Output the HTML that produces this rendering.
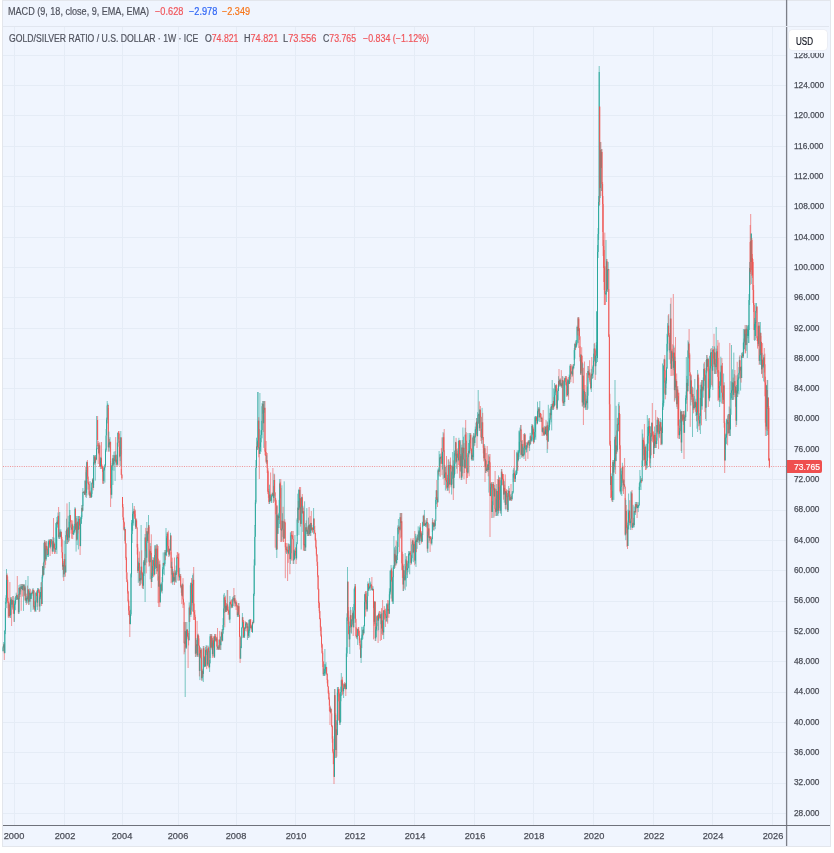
<!DOCTYPE html>
<html><head><meta charset="utf-8"><title>GOLD/SILVER RATIO / U.S. DOLLAR</title>
<style>
html,body{margin:0;padding:0;background:#fff;width:834px;height:853px;overflow:hidden}
body{position:relative;font-family:"Liberation Sans",sans-serif;color:#131722}
#frame{position:absolute;left:2px;top:0;width:827px;height:845px;border:1px solid #e3e6ec;background:#f0f5fe}
svg{position:absolute;left:0;top:0}
.t{position:absolute;font-size:10px;line-height:1;white-space:pre;transform-origin:0 0;color:#50535e;-webkit-text-stroke:0.2px currentColor}
.r{color:#f0555a}.b{color:#2f66f5}.o{color:#f7761a}
.pl{position:absolute;left:794px;font-size:8.8px;line-height:1;white-space:pre;transform:scaleX(.945);transform-origin:0 0;color:#4a4d57;-webkit-text-stroke:0.25px #4a4d57}
.yl{position:absolute;top:830.5px;width:40px;text-align:center;font-size:9.8px;line-height:1;transform:scaleX(.943);transform-origin:50% 0;color:#4a4d57;-webkit-text-stroke:0.25px #4a4d57}
#usd{position:absolute;left:789px;top:30px;width:38px;height:20px;background:#fff;box-shadow:0 0 0 0.6px #e8eaef;border-radius:3.5px}
#usdmask{position:absolute;left:788px;top:29px;width:41px;height:23.6px;background:#f0f5fe}
#lastbox{position:absolute;left:787px;top:459.6px;width:35px;height:13.1px;background:#ef4f4f;border-radius:0 2px 2px 0}
</style></head><body>
<div id="frame"></div>
<svg width="834" height="853" viewBox="0 0 834 853">
<path stroke="#e5ecf6" stroke-width="1" fill="none" d="M3 813.5H786M3 783.5H786M3 752.5H786M3 722.5H786M3 692.5H786M3 661.5H786M3 631.5H786M3 601.5H786M3 570.5H786M3 540.5H786M3 510.5H786M3 479.5H786M3 449.5H786M3 419.5H786M3 388.5H786M3 358.5H786M3 328.5H786M3 297.5H786M3 267.5H786M3 237.5H786M3 206.5H786M3 176.5H786M3 146.5H786M3 115.5H786M3 85.5H786M3 55.5H786M14.5 27V825M64.5 27V825M122.5 27V825M178.5 27V825M236.5 27V825M295.5 27V825M354.5 27V825M414.5 27V825M474.5 27V825M533.5 27V825M593.5 27V825M653.5 27V825M712.5 27V825M772.5 27V825"/>
<g fill="none"><path stroke="#26a69a" stroke-width="0.6" d="M3.1 646.1V651.6M3.7 642.0V648.0"/><path stroke="#26a69a" stroke-width="0.95" d="M3.1 647.4V651.0M3.7 644.4V647.4"/><path stroke="#ef5350" stroke-width="0.6" d="M4.3 643.2V660.0"/><path stroke="#ef5350" stroke-width="0.95" d="M4.3 644.4V653.2"/><path stroke="#26a69a" stroke-width="0.6" d="M4.8 630.2V653.0M5.4 602.0V634.1M6.0 595.2V604.0M6.5 569.0V602.5"/><path stroke="#26a69a" stroke-width="0.95" d="M4.8 630.7V653.2M5.4 608.1V630.7M6.0 597.9V608.1M6.5 575.1V597.9"/><path stroke="#ef5350" stroke-width="0.6" d="M7.1 573.5V580.1M7.7 576.4V603.0M8.2 597.8V617.6M8.8 601.9V618.0"/><path stroke="#ef5350" stroke-width="0.95" d="M7.1 575.1V579.8M7.7 579.8V601.4M8.2 601.4V608.4M8.8 608.4V616.1"/><path stroke="#26a69a" stroke-width="0.6" d="M9.4 602.8V616.6"/><path stroke="#26a69a" stroke-width="0.95" d="M9.4 604.6V616.1"/><path stroke="#ef5350" stroke-width="0.6" d="M9.9 582.0V617.8"/><path stroke="#ef5350" stroke-width="0.95" d="M9.9 604.6V615.3"/><path stroke="#26a69a" stroke-width="0.6" d="M10.5 597.2V618.0M11.1 598.4V614.8"/><path stroke="#26a69a" stroke-width="0.95" d="M10.5 600.0V615.3M11.1 599.4V600.4"/><path stroke="#ef5350" stroke-width="0.6" d="M11.6 597.0V626.0"/><path stroke="#ef5350" stroke-width="0.95" d="M11.6 599.7V604.7"/><path stroke="#26a69a" stroke-width="0.6" d="M12.2 599.8V607.4M12.8 596.0V609.7"/><path stroke="#26a69a" stroke-width="0.95" d="M12.2 600.9V604.7M12.8 600.2V601.2"/><path stroke="#ef5350" stroke-width="0.6" d="M13.3 596.0V613.8M13.9 606.7V621.9"/><path stroke="#ef5350" stroke-width="0.95" d="M13.3 600.6V608.7M13.9 608.7V613.8"/><path stroke="#26a69a" stroke-width="0.6" d="M14.5 600.7V621.9M15.0 597.5V605.0M15.6 596.0V610.2M16.2 592.7V600.0M16.7 594.5V597.6"/><path stroke="#26a69a" stroke-width="0.95" d="M14.5 604.2V613.8M15.0 603.4V604.4M15.6 599.8V603.5M16.2 596.8V599.8M16.7 595.1V596.8"/><path stroke="#ef5350" stroke-width="0.6" d="M17.3 576.0V600.0"/><path stroke="#ef5350" stroke-width="0.95" d="M17.3 595.1V598.7"/><path stroke="#26a69a" stroke-width="0.6" d="M17.9 596.3V600.0"/><path stroke="#26a69a" stroke-width="0.95" d="M17.9 597.9V598.9"/><path stroke="#ef5350" stroke-width="0.6" d="M18.4 593.9V614.0"/><path stroke="#ef5350" stroke-width="0.95" d="M18.4 598.2V612.3"/><path stroke="#26a69a" stroke-width="0.6" d="M19.0 585.1V614.0"/><path stroke="#26a69a" stroke-width="0.95" d="M19.0 587.9V612.3"/><path stroke="#ef5350" stroke-width="0.6" d="M19.5 587.1V599.1"/><path stroke="#ef5350" stroke-width="0.95" d="M19.5 587.9V594.5"/><path stroke="#26a69a" stroke-width="0.6" d="M20.1 584.0V597.0M20.7 585.7V591.6"/><path stroke="#26a69a" stroke-width="0.95" d="M20.1 588.7V594.5M20.7 587.2V588.7"/><path stroke="#ef5350" stroke-width="0.6" d="M21.2 584.0V610.8"/><path stroke="#ef5350" stroke-width="0.95" d="M21.2 587.2V589.0"/><path stroke="#26a69a" stroke-width="0.6" d="M21.8 584.0V589.1"/><path stroke="#26a69a" stroke-width="0.95" d="M21.8 586.0V589.0"/><path stroke="#ef5350" stroke-width="0.6" d="M22.4 584.0V596.5"/><path stroke="#ef5350" stroke-width="0.95" d="M22.4 586.0V589.9"/><path stroke="#26a69a" stroke-width="0.6" d="M22.9 584.0V590.5M23.5 584.3V610.9"/><path stroke="#26a69a" stroke-width="0.95" d="M22.9 585.8V589.9M23.5 585.2V586.2"/><path stroke="#ef5350" stroke-width="0.6" d="M24.1 584.0V596.2"/><path stroke="#ef5350" stroke-width="0.95" d="M24.1 585.6V590.5"/><path stroke="#26a69a" stroke-width="0.6" d="M24.6 584.6V595.6"/><path stroke="#26a69a" stroke-width="0.95" d="M24.6 587.5V590.5"/><path stroke="#ef5350" stroke-width="0.6" d="M25.2 585.9V600.9"/><path stroke="#ef5350" stroke-width="0.95" d="M25.2 587.5V600.3"/><path stroke="#26a69a" stroke-width="0.6" d="M25.8 580.0V603.0"/><path stroke="#26a69a" stroke-width="0.95" d="M25.8 598.0V600.3"/><path stroke="#ef5350" stroke-width="0.6" d="M26.3 593.6V605.0"/><path stroke="#ef5350" stroke-width="0.95" d="M26.3 598.0V601.4"/><path stroke="#26a69a" stroke-width="0.6" d="M26.9 596.0V603.5"/><path stroke="#26a69a" stroke-width="0.95" d="M26.9 597.6V601.4"/><path stroke="#ef5350" stroke-width="0.6" d="M27.5 585.6V599.7"/><path stroke="#ef5350" stroke-width="0.95" d="M27.5 597.6V598.8"/><path stroke="#26a69a" stroke-width="0.6" d="M28.0 576.0V603.3"/><path stroke="#26a69a" stroke-width="0.95" d="M28.0 589.5V598.8"/><path stroke="#ef5350" stroke-width="0.6" d="M28.6 589.2V605.0"/><path stroke="#ef5350" stroke-width="0.95" d="M28.6 589.5V601.8"/><path stroke="#26a69a" stroke-width="0.6" d="M29.2 590.9V604.7M29.7 588.4V600.8"/><path stroke="#26a69a" stroke-width="0.95" d="M29.2 595.8V601.8M29.7 592.7V595.8"/><path stroke="#ef5350" stroke-width="0.6" d="M30.3 589.1V601.8"/><path stroke="#ef5350" stroke-width="0.95" d="M30.3 592.7V599.0"/><path stroke="#26a69a" stroke-width="0.6" d="M30.9 593.3V611.9M31.4 593.2V598.8M32.0 590.6V595.6"/><path stroke="#26a69a" stroke-width="0.95" d="M30.9 594.0V599.0M31.4 593.1V594.1M32.0 592.3V593.3"/><path stroke="#ef5350" stroke-width="0.6" d="M32.6 588.8V593.9"/><path stroke="#ef5350" stroke-width="0.95" d="M32.6 592.3V593.3"/><path stroke="#26a69a" stroke-width="0.6" d="M33.1 588.0V610.0"/><path stroke="#26a69a" stroke-width="0.95" d="M33.1 590.1V593.1"/><path stroke="#ef5350" stroke-width="0.6" d="M33.7 589.7V608.8"/><path stroke="#ef5350" stroke-width="0.95" d="M33.7 590.1V606.5"/><path stroke="#26a69a" stroke-width="0.6" d="M34.2 590.8V608.5"/><path stroke="#26a69a" stroke-width="0.95" d="M34.2 605.9V606.9"/><path stroke="#ef5350" stroke-width="0.6" d="M34.8 601.0V612.0"/><path stroke="#ef5350" stroke-width="0.95" d="M34.8 606.4V610.4"/><path stroke="#26a69a" stroke-width="0.6" d="M35.4 600.4V611.2M35.9 592.2V612.0"/><path stroke="#26a69a" stroke-width="0.95" d="M35.4 601.9V610.4M35.9 592.8V601.9"/><path stroke="#ef5350" stroke-width="0.6" d="M36.5 590.6V596.0M37.1 594.0V606.8"/><path stroke="#ef5350" stroke-width="0.95" d="M36.5 592.8V595.8M37.1 595.8V602.6"/><path stroke="#26a69a" stroke-width="0.6" d="M37.6 588.0V610.0M38.2 588.0V593.1"/><path stroke="#26a69a" stroke-width="0.95" d="M37.6 590.1V602.6M38.2 589.4V590.4"/><path stroke="#ef5350" stroke-width="0.6" d="M38.8 588.6V592.5M39.3 589.5V612.0"/><path stroke="#ef5350" stroke-width="0.95" d="M38.8 589.7V591.4M39.3 591.4V606.4"/><path stroke="#26a69a" stroke-width="0.6" d="M39.9 595.6V611.3M40.5 591.9V599.2M41.0 582.3V595.7"/><path stroke="#26a69a" stroke-width="0.95" d="M39.9 597.5V606.4M40.5 592.1V597.5M41.0 587.1V592.1"/><path stroke="#ef5350" stroke-width="0.6" d="M41.6 582.0V606.0"/><path stroke="#ef5350" stroke-width="0.95" d="M41.6 587.1V604.0"/><path stroke="#26a69a" stroke-width="0.6" d="M42.2 574.9V582.0M42.7 566.1V578.5"/><path stroke="#26a69a" stroke-width="0.95" d="M42.2 576.8V604.0M42.7 566.1V576.8"/><path stroke="#ef5350" stroke-width="0.6" d="M43.3 563.0V575.7"/><path stroke="#ef5350" stroke-width="0.95" d="M43.3 566.1V574.8"/><path stroke="#26a69a" stroke-width="0.6" d="M43.9 543.0V570.0M44.4 540.0V562.5"/><path stroke="#26a69a" stroke-width="0.95" d="M43.9 561.7V574.8M44.4 542.1V561.7"/><path stroke="#ef5350" stroke-width="0.6" d="M45.0 540.4V568.2M45.6 543.0V564.9"/><path stroke="#ef5350" stroke-width="0.95" d="M45.0 542.1V548.4M45.6 548.4V559.3"/><path stroke="#26a69a" stroke-width="0.6" d="M46.1 541.0V560.8"/><path stroke="#26a69a" stroke-width="0.95" d="M46.1 545.9V559.3"/><path stroke="#ef5350" stroke-width="0.6" d="M46.7 541.2V550.2M47.3 546.5V554.9"/><path stroke="#ef5350" stroke-width="0.95" d="M46.7 545.9V548.6M47.3 548.6V554.8"/><path stroke="#26a69a" stroke-width="0.6" d="M47.8 554.3V557.0M48.4 540.6V557.0M49.0 539.0V544.4"/><path stroke="#26a69a" stroke-width="0.95" d="M47.8 554.3V555.3M48.4 542.3V554.7M49.0 540.6V542.3"/><path stroke="#ef5350" stroke-width="0.6" d="M49.5 540.3V547.8M50.1 539.0V556.0"/><path stroke="#ef5350" stroke-width="0.95" d="M49.5 540.6V544.6M50.1 544.6V546.6"/><path stroke="#26a69a" stroke-width="0.6" d="M50.6 539.0V548.5M51.2 539.0V543.2"/><path stroke="#26a69a" stroke-width="0.95" d="M50.6 540.9V546.6M51.2 539.9V540.9"/><path stroke="#ef5350" stroke-width="0.6" d="M51.8 539.0V546.7M52.3 542.4V554.0"/><path stroke="#ef5350" stroke-width="0.95" d="M51.8 539.9V544.6M52.3 544.6V551.5"/><path stroke="#26a69a" stroke-width="0.6" d="M52.9 537.0V551.5"/><path stroke="#26a69a" stroke-width="0.95" d="M52.9 541.1V551.5"/><path stroke="#ef5350" stroke-width="0.6" d="M53.5 518.0V549.4"/><path stroke="#ef5350" stroke-width="0.95" d="M53.5 541.1V547.6"/><path stroke="#26a69a" stroke-width="0.6" d="M54.0 537.7V551.8"/><path stroke="#26a69a" stroke-width="0.95" d="M54.0 543.9V547.6"/><path stroke="#ef5350" stroke-width="0.6" d="M54.6 542.5V554.0M55.2 548.5V553.7"/><path stroke="#ef5350" stroke-width="0.95" d="M54.6 543.9V548.7M55.2 548.5V549.5"/><path stroke="#26a69a" stroke-width="0.6" d="M55.7 523.1V552.0M56.3 522.5V550.0M56.9 517.0V554.0"/><path stroke="#26a69a" stroke-width="0.95" d="M55.7 548.3V549.3M56.3 527.5V548.4M56.9 521.9V527.5"/><path stroke="#ef5350" stroke-width="0.6" d="M57.4 520.3V524.8"/><path stroke="#ef5350" stroke-width="0.95" d="M57.4 521.9V524.0"/><path stroke="#26a69a" stroke-width="0.6" d="M58.0 512.5V527.7"/><path stroke="#26a69a" stroke-width="0.95" d="M58.0 515.9V524.0"/><path stroke="#ef5350" stroke-width="0.6" d="M58.6 507.0V538.6"/><path stroke="#ef5350" stroke-width="0.95" d="M58.6 515.9V536.9"/><path stroke="#26a69a" stroke-width="0.6" d="M59.1 529.3V539.0M59.7 512.0V539.0"/><path stroke="#26a69a" stroke-width="0.95" d="M59.1 534.7V536.9M59.7 532.4V534.7"/><path stroke="#ef5350" stroke-width="0.6" d="M60.3 530.7V537.4"/><path stroke="#ef5350" stroke-width="0.95" d="M60.3 532.4V536.6"/><path stroke="#26a69a" stroke-width="0.6" d="M60.8 529.2V537.2"/><path stroke="#26a69a" stroke-width="0.95" d="M60.8 531.8V536.6"/><path stroke="#ef5350" stroke-width="0.6" d="M61.4 535.0V546.7M62.0 536.9V558.2M62.5 552.1V569.9"/><path stroke="#ef5350" stroke-width="0.95" d="M61.4 531.8V539.3M62.0 539.3V552.4M62.5 552.4V566.5"/><path stroke="#26a69a" stroke-width="0.6" d="M63.1 563.2V577.3"/><path stroke="#26a69a" stroke-width="0.95" d="M63.1 565.0V566.5"/><path stroke="#ef5350" stroke-width="0.6" d="M63.7 561.1V581.0"/><path stroke="#ef5350" stroke-width="0.95" d="M63.7 565.0V574.3"/><path stroke="#26a69a" stroke-width="0.6" d="M64.2 540.5V577.0"/><path stroke="#26a69a" stroke-width="0.95" d="M64.2 559.1V574.3"/><path stroke="#ef5350" stroke-width="0.6" d="M64.8 553.9V566.8M65.4 565.1V576.7"/><path stroke="#ef5350" stroke-width="0.95" d="M64.8 559.1V566.2M65.4 566.2V572.5"/><path stroke="#26a69a" stroke-width="0.6" d="M65.9 530.8V544.0M66.5 518.7V536.7"/><path stroke="#26a69a" stroke-width="0.95" d="M65.9 535.2V572.5M66.5 529.5V535.2"/><path stroke="#ef5350" stroke-width="0.6" d="M67.0 503.4V544.0"/><path stroke="#ef5350" stroke-width="0.95" d="M67.0 529.5V539.8"/><path stroke="#26a69a" stroke-width="0.6" d="M67.6 527.6V544.0M68.2 515.8V542.0"/><path stroke="#26a69a" stroke-width="0.95" d="M67.6 534.5V539.8M68.2 527.8V534.5"/><path stroke="#ef5350" stroke-width="0.6" d="M68.7 527.0V542.5"/><path stroke="#ef5350" stroke-width="0.95" d="M68.7 527.8V537.6"/><path stroke="#26a69a" stroke-width="0.6" d="M69.3 502.0V540.8M69.9 510.0V530.1"/><path stroke="#26a69a" stroke-width="0.95" d="M69.3 521.7V537.6M69.9 515.1V521.7"/><path stroke="#ef5350" stroke-width="0.6" d="M70.4 519.0V522.3M71.0 520.0V533.7M71.6 527.2V538.7"/><path stroke="#ef5350" stroke-width="0.95" d="M70.4 515.1V520.2M71.0 520.2V527.6M71.6 527.6V529.5"/><path stroke="#26a69a" stroke-width="0.6" d="M72.1 523.5V530.2"/><path stroke="#26a69a" stroke-width="0.95" d="M72.1 524.6V529.5"/><path stroke="#ef5350" stroke-width="0.6" d="M72.7 520.4V539.0"/><path stroke="#ef5350" stroke-width="0.95" d="M72.7 524.6V533.9"/><path stroke="#26a69a" stroke-width="0.6" d="M73.3 533.3V534.9M73.8 526.2V535.0M74.4 523.9V532.5M75.0 507.0V532.5"/><path stroke="#26a69a" stroke-width="0.95" d="M73.3 533.2V534.2M73.8 530.7V533.6M74.4 529.9V530.9M75.0 508.6V530.1"/><path stroke="#ef5350" stroke-width="0.6" d="M75.5 516.0V530.1"/><path stroke="#ef5350" stroke-width="0.95" d="M75.5 508.6V528.7"/><path stroke="#26a69a" stroke-width="0.6" d="M76.1 516.0V551.6"/><path stroke="#26a69a" stroke-width="0.95" d="M76.1 523.4V528.7"/><path stroke="#ef5350" stroke-width="0.6" d="M76.7 518.2V540.7"/><path stroke="#ef5350" stroke-width="0.95" d="M76.7 523.4V539.6"/><path stroke="#26a69a" stroke-width="0.6" d="M77.2 516.0V545.1"/><path stroke="#26a69a" stroke-width="0.95" d="M77.2 521.9V539.6"/><path stroke="#ef5350" stroke-width="0.6" d="M77.8 521.6V533.5"/><path stroke="#ef5350" stroke-width="0.95" d="M77.8 521.9V529.8"/><path stroke="#26a69a" stroke-width="0.6" d="M78.4 516.0V549.4M78.9 516.0V526.0"/><path stroke="#26a69a" stroke-width="0.95" d="M78.4 525.8V529.8M78.9 519.0V525.8"/><path stroke="#ef5350" stroke-width="0.6" d="M79.5 516.0V529.2M80.1 518.3V555.0"/><path stroke="#ef5350" stroke-width="0.95" d="M79.5 519.0V525.1M80.1 525.1V546.1"/><path stroke="#26a69a" stroke-width="0.6" d="M80.6 517.2V540.0M81.2 515.5V524.0M81.8 505.0V519.0"/><path stroke="#26a69a" stroke-width="0.95" d="M80.6 523.7V546.1M81.2 517.1V523.7M81.8 507.9V517.1"/><path stroke="#ef5350" stroke-width="0.6" d="M82.3 505.0V511.7"/><path stroke="#ef5350" stroke-width="0.95" d="M82.3 507.9V510.8"/><path stroke="#26a69a" stroke-width="0.6" d="M82.9 488.0V506.0"/><path stroke="#26a69a" stroke-width="0.95" d="M82.9 492.1V510.8"/><path stroke="#ef5350" stroke-width="0.6" d="M83.4 491.6V492.9"/><path stroke="#ef5350" stroke-width="0.95" d="M83.4 491.8V492.8"/><path stroke="#26a69a" stroke-width="0.6" d="M84.0 491.4V493.4"/><path stroke="#26a69a" stroke-width="0.95" d="M84.0 491.8V492.8"/><path stroke="#ef5350" stroke-width="0.6" d="M84.6 490.4V494.8"/><path stroke="#ef5350" stroke-width="0.95" d="M84.6 492.0V494.7"/><path stroke="#26a69a" stroke-width="0.6" d="M85.1 480.1V495.1"/><path stroke="#26a69a" stroke-width="0.95" d="M85.1 480.9V494.7"/><path stroke="#ef5350" stroke-width="0.6" d="M85.7 466.8V497.0"/><path stroke="#ef5350" stroke-width="0.95" d="M85.7 480.9V492.9"/><path stroke="#26a69a" stroke-width="0.6" d="M86.3 470.0V498.0M86.8 461.5V495.4"/><path stroke="#26a69a" stroke-width="0.95" d="M86.3 472.1V492.9M86.8 462.2V472.1"/><path stroke="#ef5350" stroke-width="0.6" d="M87.4 460.0V479.0M88.0 466.3V489.6M88.5 482.3V484.6M89.1 481.5V495.4M89.7 491.1V498.0"/><path stroke="#ef5350" stroke-width="0.95" d="M87.4 462.2V476.6M88.0 476.6V483.4M88.5 483.3V484.3M89.1 484.1V494.5M89.7 494.5V495.6"/><path stroke="#26a69a" stroke-width="0.6" d="M90.2 481.2V497.9"/><path stroke="#26a69a" stroke-width="0.95" d="M90.2 492.6V495.6"/><path stroke="#ef5350" stroke-width="0.6" d="M90.8 490.5V498.0"/><path stroke="#ef5350" stroke-width="0.95" d="M90.8 492.6V496.9"/><path stroke="#26a69a" stroke-width="0.6" d="M91.4 487.7V498.0M91.9 482.4V497.0M92.5 478.6V484.2"/><path stroke="#26a69a" stroke-width="0.95" d="M91.4 493.9V496.9M91.9 482.9V493.9M92.5 479.7V482.9"/><path stroke="#ef5350" stroke-width="0.6" d="M93.1 478.0V490.4"/><path stroke="#ef5350" stroke-width="0.95" d="M93.1 479.7V487.9"/><path stroke="#26a69a" stroke-width="0.6" d="M93.6 455.0V485.0M94.2 455.0V463.8"/><path stroke="#26a69a" stroke-width="0.95" d="M93.6 462.2V487.9M94.2 456.7V462.2"/><path stroke="#ef5350" stroke-width="0.6" d="M94.8 456.0V465.0"/><path stroke="#ef5350" stroke-width="0.95" d="M94.8 456.7V463.2"/><path stroke="#26a69a" stroke-width="0.6" d="M95.3 455.0V480.6"/><path stroke="#26a69a" stroke-width="0.95" d="M95.3 457.7V463.2"/><path stroke="#ef5350" stroke-width="0.6" d="M95.9 455.0V461.3"/><path stroke="#ef5350" stroke-width="0.95" d="M95.9 457.7V459.7"/><path stroke="#26a69a" stroke-width="0.6" d="M96.5 416.0V456.0M97.0 445.1V449.2"/><path stroke="#26a69a" stroke-width="0.95" d="M96.5 448.8V459.7M97.0 447.8V448.8"/><path stroke="#ef5350" stroke-width="0.6" d="M97.6 416.0V446.0M98.2 441.0V464.0M98.7 444.9V453.9"/><path stroke="#ef5350" stroke-width="0.95" d="M97.6 420.0V440.0M98.2 443.2V446.9M98.7 446.9V452.9"/><path stroke="#26a69a" stroke-width="0.6" d="M99.3 443.3V454.9"/><path stroke="#26a69a" stroke-width="0.95" d="M99.3 445.4V452.9"/><path stroke="#ef5350" stroke-width="0.6" d="M99.8 442.2V467.0"/><path stroke="#ef5350" stroke-width="0.95" d="M99.8 445.4V466.5"/><path stroke="#26a69a" stroke-width="0.6" d="M100.4 457.5V469.0M101.0 456.9V462.7"/><path stroke="#26a69a" stroke-width="0.95" d="M100.4 460.5V466.5M101.0 458.2V460.5"/><path stroke="#ef5350" stroke-width="0.6" d="M101.5 442.0V469.0M102.1 464.4V468.5M102.7 465.8V483.7M103.2 468.1V484.0"/><path stroke="#ef5350" stroke-width="0.95" d="M101.5 458.2V466.7M102.1 466.3V467.3M102.7 467.0V471.9M103.2 471.9V480.8"/><path stroke="#26a69a" stroke-width="0.6" d="M103.8 467.2V483.7M104.4 467.2V470.7M104.9 464.0V482.6M105.5 448.6V466.6M106.1 429.0V451.9M106.6 417.6V429.0M107.2 401.0V423.4M107.8 403.4V405.6"/><path stroke="#26a69a" stroke-width="0.95" d="M103.8 469.8V480.8M104.4 467.8V469.8M104.9 465.2V467.8M105.5 450.4V465.2M106.1 435.6V450.4M106.6 419.7V435.6M107.2 405.5V419.7M107.8 404.8V405.8"/><path stroke="#ef5350" stroke-width="0.6" d="M108.3 408.0V452.0"/><path stroke="#ef5350" stroke-width="0.95" d="M108.3 405.1V447.3"/><path stroke="#26a69a" stroke-width="0.6" d="M108.9 431.7V450.9"/><path stroke="#26a69a" stroke-width="0.95" d="M108.9 442.6V447.3"/><path stroke="#ef5350" stroke-width="0.6" d="M109.5 438.9V447.6"/><path stroke="#ef5350" stroke-width="0.95" d="M109.5 442.6V444.5"/><path stroke="#26a69a" stroke-width="0.6" d="M110.0 437.1V452.0"/><path stroke="#26a69a" stroke-width="0.95" d="M110.0 441.8V444.5"/><path stroke="#ef5350" stroke-width="0.6" d="M110.6 461.0V507.0M111.2 484.7V494.7"/><path stroke="#ef5350" stroke-width="0.95" d="M110.6 441.8V488.3M111.2 488.3V494.7"/><path stroke="#26a69a" stroke-width="0.6" d="M111.7 465.0V498.5M112.3 458.6V470.3M112.9 454.9V485.0"/><path stroke="#26a69a" stroke-width="0.95" d="M111.7 465.8V494.7M112.3 463.0V465.8M112.9 458.2V463.0"/><path stroke="#ef5350" stroke-width="0.6" d="M113.4 455.1V465.7"/><path stroke="#ef5350" stroke-width="0.95" d="M113.4 458.2V464.5"/><path stroke="#26a69a" stroke-width="0.6" d="M114.0 451.7V470.8M114.6 455.3V460.8M115.1 451.0V481.0"/><path stroke="#26a69a" stroke-width="0.95" d="M114.0 460.7V464.5M114.6 459.4V460.7M115.1 455.2V459.4"/><path stroke="#ef5350" stroke-width="0.6" d="M115.7 437.1V462.8"/><path stroke="#ef5350" stroke-width="0.95" d="M115.7 455.2V461.6"/><path stroke="#26a69a" stroke-width="0.6" d="M116.2 454.5V465.0"/><path stroke="#26a69a" stroke-width="0.95" d="M116.2 459.7V461.6"/><path stroke="#ef5350" stroke-width="0.6" d="M116.8 455.1V467.0"/><path stroke="#ef5350" stroke-width="0.95" d="M116.8 459.7V464.5"/><path stroke="#26a69a" stroke-width="0.6" d="M117.4 442.4V465.5M117.9 432.4V443.1"/><path stroke="#26a69a" stroke-width="0.95" d="M117.4 442.7V464.5M117.9 432.9V442.7"/><path stroke="#ef5350" stroke-width="0.6" d="M118.5 431.0V439.3M119.1 431.0V465.6M119.6 441.0V457.4"/><path stroke="#ef5350" stroke-width="0.95" d="M118.5 432.7V433.7M119.1 433.5V446.7M119.6 446.7V456.3"/><path stroke="#26a69a" stroke-width="0.6" d="M120.2 437.3V461.1M120.8 431.0V466.3"/><path stroke="#26a69a" stroke-width="0.95" d="M120.2 454.5V456.3M120.8 437.4V454.5"/><path stroke="#ef5350" stroke-width="0.6" d="M121.3 469.0V475.2M121.9 474.2V480.0M122.5 497.0V507.5M123.0 504.0V520.0M123.6 518.0V529.8M124.2 521.5V531.1"/><path stroke="#ef5350" stroke-width="0.95" d="M121.3 437.4V474.8M121.9 474.8V478.3M122.5 497.0V507.1M123.0 507.1V517.2M123.6 517.2V522.4M124.2 522.4V529.4"/><path stroke="#26a69a" stroke-width="0.6" d="M124.7 526.9V541.0"/><path stroke="#26a69a" stroke-width="0.95" d="M124.7 528.7V529.7"/><path stroke="#ef5350" stroke-width="0.6" d="M125.3 529.0V543.7M125.9 543.1V560.0M126.4 556.9V579.0M127.0 579.0V582.2M127.6 580.3V593.6M128.1 590.9V602.5M128.7 599.6V615.0M129.3 606.0V616.5M129.8 614.0V637.0"/><path stroke="#ef5350" stroke-width="0.95" d="M125.3 529.1V543.5M125.9 543.5V558.0M126.4 558.0V572.4M127.0 572.4V582.0M127.6 582.0V591.5M128.1 591.5V601.1M128.7 601.1V610.7M129.3 610.7V614.9M129.8 614.9V624.1"/><path stroke="#26a69a" stroke-width="0.6" d="M130.4 609.8V624.2M131.0 572.9V616.0M131.5 520.0V577.4M132.1 522.7V543.0M132.6 503.0V530.9M133.2 511.2V523.3M133.8 508.7V525.6"/><path stroke="#26a69a" stroke-width="0.95" d="M130.4 614.3V624.1M131.0 574.2V614.3M131.5 534.0V574.2M132.1 522.9V534.0M132.6 513.8V522.9M133.2 512.0V513.8M133.8 511.1V512.1"/><path stroke="#ef5350" stroke-width="0.6" d="M134.3 506.0V516.6M134.9 509.2V518.9M135.5 510.3V528.9"/><path stroke="#ef5350" stroke-width="0.95" d="M134.3 511.2V514.2M134.9 514.2V518.6M135.5 518.6V526.6"/><path stroke="#26a69a" stroke-width="0.6" d="M136.0 518.8V529.0"/><path stroke="#26a69a" stroke-width="0.95" d="M136.0 520.5V526.6"/><path stroke="#ef5350" stroke-width="0.6" d="M136.6 518.5V528.4M137.2 544.0V554.6M137.7 544.0V573.0"/><path stroke="#ef5350" stroke-width="0.95" d="M136.6 520.5V527.4M137.2 527.4V547.5M137.7 547.5V571.0"/><path stroke="#26a69a" stroke-width="0.6" d="M138.3 561.6V582.8M138.9 557.8V568.2"/><path stroke="#26a69a" stroke-width="0.95" d="M138.3 566.4V571.0M138.9 563.1V566.4"/><path stroke="#ef5350" stroke-width="0.6" d="M139.4 551.5V586.0"/><path stroke="#ef5350" stroke-width="0.95" d="M139.4 563.1V581.2"/><path stroke="#26a69a" stroke-width="0.6" d="M140.0 572.5V585.7"/><path stroke="#26a69a" stroke-width="0.95" d="M140.0 578.2V581.2"/><path stroke="#ef5350" stroke-width="0.6" d="M140.6 570.4V585.2"/><path stroke="#ef5350" stroke-width="0.95" d="M140.6 578.2V579.8"/><path stroke="#26a69a" stroke-width="0.6" d="M141.1 525.0V583.7"/><path stroke="#26a69a" stroke-width="0.95" d="M141.1 566.7V579.8"/><path stroke="#ef5350" stroke-width="0.6" d="M141.7 550.3V574.7M142.3 571.8V588.0M142.8 573.3V589.0"/><path stroke="#ef5350" stroke-width="0.95" d="M141.7 566.7V572.6M142.3 572.6V581.2M142.8 581.2V585.7"/><path stroke="#26a69a" stroke-width="0.6" d="M143.4 562.1V589.0M144.0 560.2V576.0"/><path stroke="#26a69a" stroke-width="0.95" d="M143.4 573.6V585.7M144.0 560.4V573.6"/><path stroke="#ef5350" stroke-width="0.6" d="M144.5 558.0V565.3"/><path stroke="#ef5350" stroke-width="0.95" d="M144.5 560.4V565.2"/><path stroke="#26a69a" stroke-width="0.6" d="M145.1 534.0V602.0"/><path stroke="#26a69a" stroke-width="0.95" d="M145.1 537.5V565.2"/><path stroke="#ef5350" stroke-width="0.6" d="M145.7 527.9V551.1M146.2 543.2V573.4"/><path stroke="#ef5350" stroke-width="0.95" d="M145.7 537.5V548.5M146.2 548.5V557.7"/><path stroke="#26a69a" stroke-width="0.6" d="M146.8 522.0V562.6"/><path stroke="#26a69a" stroke-width="0.95" d="M146.8 531.2V557.7"/><path stroke="#ef5350" stroke-width="0.6" d="M147.3 527.8V541.5"/><path stroke="#ef5350" stroke-width="0.95" d="M147.3 531.2V541.0"/><path stroke="#26a69a" stroke-width="0.6" d="M147.9 531.7V543.0M148.5 515.0V534.4"/><path stroke="#26a69a" stroke-width="0.95" d="M147.9 533.6V541.0M148.5 525.2V533.6"/><path stroke="#ef5350" stroke-width="0.6" d="M149.0 527.0V566.6M149.6 549.4V565.8"/><path stroke="#ef5350" stroke-width="0.95" d="M149.0 525.2V561.8M149.6 561.5V562.5"/><path stroke="#26a69a" stroke-width="0.6" d="M150.2 543.1V579.3"/><path stroke="#26a69a" stroke-width="0.95" d="M150.2 551.2V562.2"/><path stroke="#ef5350" stroke-width="0.6" d="M150.7 546.0V555.3M151.3 534.3V588.0"/><path stroke="#ef5350" stroke-width="0.95" d="M150.7 551.2V552.9M151.3 552.9V582.0"/><path stroke="#26a69a" stroke-width="0.6" d="M151.9 572.9V578.0M152.4 559.8V578.0M153.0 557.0V570.8"/><path stroke="#26a69a" stroke-width="0.95" d="M151.9 576.2V582.0M152.4 565.8V576.2M153.0 560.2V565.8"/><path stroke="#ef5350" stroke-width="0.6" d="M153.6 557.8V577.2M154.1 564.3V576.2"/><path stroke="#ef5350" stroke-width="0.95" d="M153.6 560.2V564.9M154.1 564.9V574.7"/><path stroke="#26a69a" stroke-width="0.6" d="M154.7 545.3V574.0M155.3 545.0V569.0"/><path stroke="#26a69a" stroke-width="0.95" d="M154.7 555.0V574.7M155.3 548.8V555.0"/><path stroke="#ef5350" stroke-width="0.6" d="M155.8 546.2V567.4M156.4 544.6V574.0"/><path stroke="#ef5350" stroke-width="0.95" d="M155.8 548.8V566.7M156.4 566.7V568.0"/><path stroke="#26a69a" stroke-width="0.6" d="M157.0 544.0V571.3"/><path stroke="#26a69a" stroke-width="0.95" d="M157.0 548.7V568.0"/><path stroke="#ef5350" stroke-width="0.6" d="M157.5 544.8V571.4M158.1 546.0V603.1M158.7 576.2V607.0"/><path stroke="#ef5350" stroke-width="0.95" d="M157.5 548.7V558.7M158.1 558.7V580.7M158.7 580.7V586.5"/><path stroke="#26a69a" stroke-width="0.6" d="M159.2 561.4V586.9"/><path stroke="#26a69a" stroke-width="0.95" d="M159.2 564.4V586.5"/><path stroke="#ef5350" stroke-width="0.6" d="M159.8 560.3V607.0"/><path stroke="#ef5350" stroke-width="0.95" d="M159.8 564.4V602.4"/><path stroke="#26a69a" stroke-width="0.6" d="M160.4 584.3V596.0M160.9 582.8V589.6"/><path stroke="#26a69a" stroke-width="0.95" d="M160.4 585.1V602.4M160.9 584.4V585.4"/><path stroke="#ef5350" stroke-width="0.6" d="M161.5 583.9V592.3"/><path stroke="#ef5350" stroke-width="0.95" d="M161.5 584.8V590.7"/><path stroke="#26a69a" stroke-width="0.6" d="M162.1 577.0V593.5M162.6 567.2V576.0M163.2 552.4V574.1"/><path stroke="#26a69a" stroke-width="0.95" d="M162.1 582.3V590.7M162.6 569.3V582.3M163.2 563.1V569.3"/><path stroke="#ef5350" stroke-width="0.6" d="M163.7 563.1V565.5"/><path stroke="#ef5350" stroke-width="0.95" d="M163.7 563.1V564.4"/><path stroke="#26a69a" stroke-width="0.6" d="M164.3 562.3V575.2M164.9 550.0V566.3"/><path stroke="#26a69a" stroke-width="0.95" d="M164.3 563.7V564.7M164.9 552.3V563.9"/><path stroke="#ef5350" stroke-width="0.6" d="M165.4 550.0V560.2"/><path stroke="#ef5350" stroke-width="0.95" d="M165.4 552.3V555.1"/><path stroke="#26a69a" stroke-width="0.6" d="M166.0 528.0V555.5M166.6 536.2V556.3M167.1 532.1V551.9"/><path stroke="#26a69a" stroke-width="0.95" d="M166.0 552.8V555.1M166.6 538.1V552.8M167.1 533.7V538.1"/><path stroke="#ef5350" stroke-width="0.6" d="M167.7 532.0V551.3M168.3 530.6V552.5M168.8 551.8V557.0"/><path stroke="#ef5350" stroke-width="0.95" d="M167.7 533.7V546.1M168.3 546.1V552.3M168.8 552.3V554.5"/><path stroke="#26a69a" stroke-width="0.6" d="M169.4 548.6V556.2"/><path stroke="#26a69a" stroke-width="0.95" d="M169.4 548.9V554.5"/><path stroke="#ef5350" stroke-width="0.6" d="M170.0 539.7V554.7"/><path stroke="#ef5350" stroke-width="0.95" d="M170.0 548.9V550.3"/><path stroke="#26a69a" stroke-width="0.6" d="M170.5 532.8V550.6"/><path stroke="#26a69a" stroke-width="0.95" d="M170.5 535.4V550.3"/><path stroke="#ef5350" stroke-width="0.6" d="M171.1 552.0V583.2"/><path stroke="#ef5350" stroke-width="0.95" d="M171.1 535.4V568.0"/><path stroke="#26a69a" stroke-width="0.6" d="M171.7 561.8V574.7"/><path stroke="#26a69a" stroke-width="0.95" d="M171.7 566.7V568.0"/><path stroke="#ef5350" stroke-width="0.6" d="M172.2 557.7V583.5"/><path stroke="#ef5350" stroke-width="0.95" d="M172.2 566.7V582.0"/><path stroke="#26a69a" stroke-width="0.6" d="M172.8 569.1V585.0"/><path stroke="#26a69a" stroke-width="0.95" d="M172.8 572.8V582.0"/><path stroke="#ef5350" stroke-width="0.6" d="M173.4 571.1V581.2"/><path stroke="#ef5350" stroke-width="0.95" d="M173.4 572.8V580.7"/><path stroke="#26a69a" stroke-width="0.6" d="M173.9 576.8V582.0"/><path stroke="#26a69a" stroke-width="0.95" d="M173.9 577.3V580.7"/><path stroke="#ef5350" stroke-width="0.6" d="M174.5 557.5V585.0"/><path stroke="#ef5350" stroke-width="0.95" d="M174.5 577.3V580.5"/><path stroke="#26a69a" stroke-width="0.6" d="M175.1 570.5V582.4"/><path stroke="#26a69a" stroke-width="0.95" d="M175.1 572.9V580.5"/><path stroke="#ef5350" stroke-width="0.6" d="M175.6 570.5V581.9"/><path stroke="#ef5350" stroke-width="0.95" d="M175.6 572.9V575.0"/><path stroke="#26a69a" stroke-width="0.6" d="M176.2 565.6V582.7M176.8 555.3V573.8"/><path stroke="#26a69a" stroke-width="0.95" d="M176.2 572.0V575.0M176.8 557.6V572.0"/><path stroke="#ef5350" stroke-width="0.6" d="M177.3 552.0V558.1M177.9 552.3V580.6M178.5 553.7V575.8M179.0 553.3V580.9"/><path stroke="#ef5350" stroke-width="0.95" d="M177.3 557.2V558.2M177.9 557.3V558.3M178.5 557.8V573.6M179.0 573.6V577.3"/><path stroke="#26a69a" stroke-width="0.6" d="M179.6 567.8V580.0M180.1 574.0V580.8"/><path stroke="#26a69a" stroke-width="0.95" d="M179.6 576.4V577.4M180.1 575.9V576.9"/><path stroke="#ef5350" stroke-width="0.6" d="M180.7 574.0V588.2"/><path stroke="#ef5350" stroke-width="0.95" d="M180.7 576.2V586.4"/><path stroke="#26a69a" stroke-width="0.6" d="M181.3 585.4V592.7"/><path stroke="#26a69a" stroke-width="0.95" d="M181.3 585.9V586.9"/><path stroke="#ef5350" stroke-width="0.6" d="M181.8 584.3V604.1"/><path stroke="#ef5350" stroke-width="0.95" d="M181.8 586.4V595.7"/><path stroke="#26a69a" stroke-width="0.6" d="M182.4 583.4V596.6"/><path stroke="#26a69a" stroke-width="0.95" d="M182.4 584.5V595.7"/><path stroke="#ef5350" stroke-width="0.6" d="M183.0 578.1V608.0M183.5 598.7V604.9M184.1 622.0V654.3M184.7 641.4V652.2"/><path stroke="#ef5350" stroke-width="0.95" d="M183.0 584.5V599.4M183.5 599.4V602.4M184.1 602.4V643.1M184.7 642.7V643.7"/><path stroke="#26a69a" stroke-width="0.6" d="M185.2 622.0V697.0"/><path stroke="#26a69a" stroke-width="0.95" d="M185.2 631.0V643.4"/><path stroke="#ef5350" stroke-width="0.6" d="M185.8 622.0V648.5"/><path stroke="#ef5350" stroke-width="0.95" d="M185.8 631.0V647.6"/><path stroke="#26a69a" stroke-width="0.6" d="M186.4 629.5V648.8M186.9 622.0V631.3"/><path stroke="#26a69a" stroke-width="0.95" d="M186.4 631.2V647.6M186.9 629.6V631.2"/><path stroke="#ef5350" stroke-width="0.6" d="M187.5 629.4V637.3M188.1 631.0V668.0M188.6 633.0V645.4"/><path stroke="#ef5350" stroke-width="0.95" d="M187.5 629.6V636.2M188.1 636.2V639.3M188.6 639.3V640.3"/><path stroke="#26a69a" stroke-width="0.6" d="M189.2 602.4V622.0"/><path stroke="#26a69a" stroke-width="0.95" d="M189.2 607.6V640.3"/><path stroke="#ef5350" stroke-width="0.6" d="M189.8 605.5V622.0"/><path stroke="#ef5350" stroke-width="0.95" d="M189.8 607.6V614.6"/><path stroke="#26a69a" stroke-width="0.6" d="M190.3 585.3V614.8M190.9 582.6V617.0"/><path stroke="#26a69a" stroke-width="0.95" d="M190.3 609.8V614.6M190.9 582.9V609.8"/><path stroke="#ef5350" stroke-width="0.6" d="M191.5 578.0V614.5M192.0 594.5V605.4"/><path stroke="#ef5350" stroke-width="0.95" d="M191.5 582.9V594.7M192.0 594.7V602.8"/><path stroke="#26a69a" stroke-width="0.6" d="M192.6 575.1V611.6M193.2 573.4V585.3"/><path stroke="#26a69a" stroke-width="0.95" d="M192.6 584.1V602.8M193.2 579.9V584.1"/><path stroke="#ef5350" stroke-width="0.6" d="M193.7 567.0V620.0M194.3 603.6V620.0M194.9 610.1V620.0M195.4 620.0V657.0"/><path stroke="#ef5350" stroke-width="0.95" d="M193.7 579.9V611.9M194.3 611.9V614.6M194.9 614.6V616.8M195.4 616.8V653.7"/><path stroke="#26a69a" stroke-width="0.6" d="M196.0 638.0V657.0M196.5 639.8V652.9"/><path stroke="#26a69a" stroke-width="0.95" d="M196.0 645.7V653.7M196.5 644.4V645.7"/><path stroke="#ef5350" stroke-width="0.6" d="M197.1 620.9V656.3"/><path stroke="#ef5350" stroke-width="0.95" d="M197.1 644.4V655.1"/><path stroke="#26a69a" stroke-width="0.6" d="M197.7 633.9V657.0"/><path stroke="#26a69a" stroke-width="0.95" d="M197.7 635.2V655.1"/><path stroke="#ef5350" stroke-width="0.6" d="M198.2 633.7V656.8M198.8 635.8V645.9M199.4 646.0V676.4"/><path stroke="#ef5350" stroke-width="0.95" d="M198.2 635.2V638.4M198.8 638.4V645.4M199.4 645.4V670.9"/><path stroke="#26a69a" stroke-width="0.6" d="M199.9 653.4V680.1M200.5 647.3V657.7"/><path stroke="#26a69a" stroke-width="0.95" d="M199.9 653.6V670.9M200.5 650.0V653.6"/><path stroke="#ef5350" stroke-width="0.6" d="M201.1 648.2V658.8M201.6 648.7V680.6"/><path stroke="#ef5350" stroke-width="0.95" d="M201.1 650.0V657.5M201.6 657.5V678.2"/><path stroke="#26a69a" stroke-width="0.6" d="M202.2 670.3V680.7"/><path stroke="#26a69a" stroke-width="0.95" d="M202.2 671.0V678.2"/><path stroke="#ef5350" stroke-width="0.6" d="M202.8 668.8V676.8"/><path stroke="#ef5350" stroke-width="0.95" d="M202.8 671.0V673.9"/><path stroke="#26a69a" stroke-width="0.6" d="M203.3 646.0V682.0"/><path stroke="#26a69a" stroke-width="0.95" d="M203.3 648.3V673.9"/><path stroke="#ef5350" stroke-width="0.6" d="M203.9 646.0V664.5M204.5 655.9V667.3"/><path stroke="#ef5350" stroke-width="0.95" d="M203.9 648.3V657.0M204.5 657.0V666.3"/><path stroke="#26a69a" stroke-width="0.6" d="M205.0 657.1V667.0M205.6 646.9V666.5M206.2 645.0V655.0"/><path stroke="#26a69a" stroke-width="0.95" d="M205.0 665.6V666.6M205.6 650.2V666.0M206.2 649.5V650.5"/><path stroke="#ef5350" stroke-width="0.6" d="M206.7 646.0V669.2M207.3 650.7V666.2"/><path stroke="#ef5350" stroke-width="0.95" d="M206.7 649.7V652.3M207.3 652.3V664.5"/><path stroke="#26a69a" stroke-width="0.6" d="M207.9 645.4V666.0"/><path stroke="#26a69a" stroke-width="0.95" d="M207.9 648.4V664.5"/><path stroke="#ef5350" stroke-width="0.6" d="M208.4 646.5V652.3M209.0 647.2V668.4"/><path stroke="#ef5350" stroke-width="0.95" d="M208.4 648.4V650.7M209.0 650.7V667.2"/><path stroke="#26a69a" stroke-width="0.6" d="M209.6 659.9V672.0M210.1 634.0V658.0"/><path stroke="#26a69a" stroke-width="0.95" d="M209.6 663.4V667.2M210.1 636.3V663.4"/><path stroke="#ef5350" stroke-width="0.6" d="M210.7 634.0V647.9"/><path stroke="#ef5350" stroke-width="0.95" d="M210.7 636.3V647.4"/><path stroke="#26a69a" stroke-width="0.6" d="M211.3 634.0V647.7"/><path stroke="#26a69a" stroke-width="0.95" d="M211.3 636.1V647.4"/><path stroke="#ef5350" stroke-width="0.6" d="M211.8 634.1V649.6M212.4 638.2V657.9"/><path stroke="#ef5350" stroke-width="0.95" d="M211.8 636.1V642.8M212.4 642.8V654.1"/><path stroke="#26a69a" stroke-width="0.6" d="M212.9 637.9V656.2"/><path stroke="#26a69a" stroke-width="0.95" d="M212.9 640.4V654.1"/><path stroke="#ef5350" stroke-width="0.6" d="M213.5 636.3V647.7M214.1 636.7V658.0"/><path stroke="#ef5350" stroke-width="0.95" d="M213.5 640.4V645.7M214.1 645.7V656.7"/><path stroke="#26a69a" stroke-width="0.6" d="M214.6 634.0V658.0"/><path stroke="#26a69a" stroke-width="0.95" d="M214.6 636.3V656.7"/><path stroke="#ef5350" stroke-width="0.6" d="M215.2 634.0V641.2M215.8 634.0V641.3"/><path stroke="#ef5350" stroke-width="0.95" d="M215.2 635.9V636.9M215.8 636.5V640.3"/><path stroke="#26a69a" stroke-width="0.6" d="M216.3 637.4V642.1"/><path stroke="#26a69a" stroke-width="0.95" d="M216.3 638.8V640.3"/><path stroke="#ef5350" stroke-width="0.6" d="M216.9 637.2V650.0M217.5 628.0V649.2"/><path stroke="#ef5350" stroke-width="0.95" d="M216.9 638.8V646.6M217.5 646.6V647.9"/><path stroke="#26a69a" stroke-width="0.6" d="M218.0 645.8V650.0"/><path stroke="#26a69a" stroke-width="0.95" d="M218.0 647.3V648.3"/><path stroke="#ef5350" stroke-width="0.6" d="M218.6 645.2V650.0"/><path stroke="#ef5350" stroke-width="0.95" d="M218.6 647.6V648.6"/><path stroke="#26a69a" stroke-width="0.6" d="M219.2 639.5V650.0"/><path stroke="#26a69a" stroke-width="0.95" d="M219.2 639.7V648.5"/><path stroke="#ef5350" stroke-width="0.6" d="M219.7 630.9V649.3M220.3 640.8V650.0"/><path stroke="#ef5350" stroke-width="0.95" d="M219.7 639.7V642.3M220.3 642.3V645.2"/><path stroke="#26a69a" stroke-width="0.6" d="M220.9 636.1V650.0M221.4 631.5V640.1"/><path stroke="#26a69a" stroke-width="0.95" d="M220.9 636.9V645.2M221.4 632.4V636.9"/><path stroke="#ef5350" stroke-width="0.6" d="M222.0 629.0V641.9"/><path stroke="#ef5350" stroke-width="0.95" d="M222.0 632.4V640.6"/><path stroke="#26a69a" stroke-width="0.6" d="M222.6 629.0V640.7M223.1 618.1V630.0M223.7 594.6V630.0M224.3 593.0V613.0"/><path stroke="#26a69a" stroke-width="0.95" d="M222.6 633.7V640.6M223.1 625.0V633.7M223.7 608.4V625.0M224.3 597.6V608.4"/><path stroke="#ef5350" stroke-width="0.6" d="M224.8 597.1V627.3M225.4 595.7V612.2"/><path stroke="#ef5350" stroke-width="0.95" d="M224.8 597.6V599.9M225.4 599.9V611.6"/><path stroke="#26a69a" stroke-width="0.6" d="M226.0 605.7V612.0"/><path stroke="#26a69a" stroke-width="0.95" d="M226.0 606.2V611.6"/><path stroke="#ef5350" stroke-width="0.6" d="M226.5 603.1V612.0"/><path stroke="#ef5350" stroke-width="0.95" d="M226.5 606.2V610.0"/><path stroke="#26a69a" stroke-width="0.6" d="M227.1 590.0V610.5"/><path stroke="#26a69a" stroke-width="0.95" d="M227.1 604.5V610.0"/><path stroke="#ef5350" stroke-width="0.6" d="M227.7 590.0V610.8M228.2 606.5V615.0M228.8 609.5V614.2M229.3 610.5V620.2"/><path stroke="#ef5350" stroke-width="0.95" d="M227.7 604.5V610.5M228.2 610.4V611.4M228.8 611.2V613.0M229.3 613.0V619.4"/><path stroke="#26a69a" stroke-width="0.6" d="M229.9 596.0V623.0"/><path stroke="#26a69a" stroke-width="0.95" d="M229.9 602.1V619.4"/><path stroke="#ef5350" stroke-width="0.6" d="M230.5 601.3V604.0M231.0 600.1V608.3M231.6 599.3V607.9"/><path stroke="#ef5350" stroke-width="0.95" d="M230.5 602.1V603.9M231.0 603.8V604.8M231.6 604.6V606.4"/><path stroke="#26a69a" stroke-width="0.6" d="M232.2 604.0V608.0M232.7 597.2V607.7M233.3 596.0V599.8"/><path stroke="#26a69a" stroke-width="0.95" d="M232.2 605.7V606.7M232.7 599.2V606.0M233.3 598.2V599.2"/><path stroke="#ef5350" stroke-width="0.6" d="M233.9 588.0V606.0"/><path stroke="#ef5350" stroke-width="0.95" d="M233.9 598.3V601.4"/><path stroke="#26a69a" stroke-width="0.6" d="M234.4 595.1V603.2"/><path stroke="#26a69a" stroke-width="0.95" d="M234.4 598.3V601.4"/><path stroke="#ef5350" stroke-width="0.6" d="M235.0 595.0V606.8"/><path stroke="#ef5350" stroke-width="0.95" d="M235.0 598.3V603.5"/><path stroke="#26a69a" stroke-width="0.6" d="M235.6 601.2V606.0"/><path stroke="#26a69a" stroke-width="0.95" d="M235.6 602.5V603.5"/><path stroke="#ef5350" stroke-width="0.6" d="M236.1 599.9V610.0M236.7 601.5V606.9M237.3 605.0V617.0"/><path stroke="#ef5350" stroke-width="0.95" d="M236.1 602.4V603.4M236.7 603.2V605.7M237.3 605.7V615.0"/><path stroke="#26a69a" stroke-width="0.6" d="M237.8 612.2V616.8M238.4 603.0V617.0"/><path stroke="#26a69a" stroke-width="0.95" d="M237.8 614.3V615.3M238.4 606.2V614.7"/><path stroke="#ef5350" stroke-width="0.6" d="M239.0 603.1V615.1M239.5 627.0V636.9M240.1 635.7V663.0"/><path stroke="#ef5350" stroke-width="0.95" d="M239.0 606.2V614.7M239.5 614.7V636.7M240.1 636.7V658.7"/><path stroke="#26a69a" stroke-width="0.6" d="M240.7 646.3V648.0M241.2 637.7V648.0M241.8 627.3V638.3M242.4 613.0V628.3"/><path stroke="#26a69a" stroke-width="0.95" d="M240.7 648.3V658.7M241.2 637.9V648.3M241.8 627.6V637.9M242.4 617.2V627.6"/><path stroke="#ef5350" stroke-width="0.6" d="M242.9 620.0V622.4M243.5 620.0V638.0"/><path stroke="#ef5350" stroke-width="0.95" d="M242.9 617.2V622.0M243.5 622.0V636.8"/><path stroke="#26a69a" stroke-width="0.6" d="M244.1 635.0V637.8M244.6 626.9V638.0"/><path stroke="#26a69a" stroke-width="0.95" d="M244.1 635.8V636.8M244.6 627.9V635.8"/><path stroke="#ef5350" stroke-width="0.6" d="M245.2 620.9V631.0"/><path stroke="#ef5350" stroke-width="0.95" d="M245.2 627.4V628.4"/><path stroke="#26a69a" stroke-width="0.6" d="M245.7 622.0V629.1M246.3 622.0V625.2"/><path stroke="#26a69a" stroke-width="0.95" d="M245.7 623.8V628.0M246.3 623.1V624.1"/><path stroke="#ef5350" stroke-width="0.6" d="M246.9 622.0V631.4"/><path stroke="#ef5350" stroke-width="0.95" d="M246.9 623.4V627.7"/><path stroke="#26a69a" stroke-width="0.6" d="M247.4 623.7V640.0"/><path stroke="#26a69a" stroke-width="0.95" d="M247.4 626.5V627.7"/><path stroke="#ef5350" stroke-width="0.6" d="M248.0 623.2V638.0"/><path stroke="#ef5350" stroke-width="0.95" d="M248.0 626.5V635.8"/><path stroke="#26a69a" stroke-width="0.6" d="M248.6 619.8V638.0M249.1 629.3V633.1M249.7 619.0V637.4"/><path stroke="#26a69a" stroke-width="0.95" d="M248.6 630.8V635.8M249.1 630.1V631.1M249.7 620.0V630.4"/><path stroke="#ef5350" stroke-width="0.6" d="M250.3 619.0V627.8M250.8 619.0V628.6"/><path stroke="#ef5350" stroke-width="0.95" d="M250.3 620.0V624.2M250.8 624.2V628.0"/><path stroke="#26a69a" stroke-width="0.6" d="M251.4 625.3V629.3"/><path stroke="#26a69a" stroke-width="0.95" d="M251.4 626.4V628.0"/><path stroke="#ef5350" stroke-width="0.6" d="M252.0 624.8V632.0"/><path stroke="#ef5350" stroke-width="0.95" d="M252.0 626.4V632.0"/><path stroke="#26a69a" stroke-width="0.6" d="M252.5 621.8V633.0"/><path stroke="#26a69a" stroke-width="0.95" d="M252.5 622.2V632.0"/><path stroke="#ef5350" stroke-width="0.6" d="M253.1 620.0V624.3"/><path stroke="#ef5350" stroke-width="0.95" d="M253.1 621.9V622.9"/><path stroke="#26a69a" stroke-width="0.6" d="M253.7 593.5V623.2M254.2 559.3V595.9M254.8 525.0V565.5M255.4 499.9V526.0M255.9 460.0V503.9M256.5 437.7V450.0"/><path stroke="#26a69a" stroke-width="0.95" d="M253.7 594.0V622.6M254.2 565.5V594.0M254.8 536.9V565.5M255.4 502.4V536.9M255.9 467.9V502.4M256.5 446.5V467.9"/><path stroke="#ef5350" stroke-width="0.6" d="M257.1 442.2V450.0"/><path stroke="#ef5350" stroke-width="0.95" d="M257.1 446.1V447.1"/><path stroke="#26a69a" stroke-width="0.6" d="M257.6 392.0V450.0M258.2 392.0V448.8"/><path stroke="#26a69a" stroke-width="0.95" d="M257.6 440.5V446.6M258.2 420.7V440.5"/><path stroke="#ef5350" stroke-width="0.6" d="M258.8 417.2V457.3M259.3 429.0V479.0"/><path stroke="#ef5350" stroke-width="0.95" d="M258.8 420.7V447.9M259.3 447.9V454.0"/><path stroke="#26a69a" stroke-width="0.6" d="M259.9 393.0V454.0M260.4 437.9V451.0M261.0 430.3V451.9M261.6 420.8V435.1M262.1 403.1V438.3M262.7 401.0V413.8"/><path stroke="#26a69a" stroke-width="0.95" d="M259.9 447.0V454.0M260.4 442.3V447.0M261.0 434.9V442.3M261.6 430.0V434.9M262.1 406.2V430.0M262.7 403.9V406.2"/><path stroke="#ef5350" stroke-width="0.6" d="M263.3 401.0V432.0"/><path stroke="#ef5350" stroke-width="0.95" d="M263.3 403.9V423.2"/><path stroke="#26a69a" stroke-width="0.6" d="M263.8 401.1V447.9M264.4 401.0V412.8"/><path stroke="#26a69a" stroke-width="0.95" d="M263.8 410.0V423.2M264.4 407.8V410.0"/><path stroke="#ef5350" stroke-width="0.6" d="M265.0 401.0V455.3M265.5 448.5V456.0M266.1 441.0V463.2"/><path stroke="#ef5350" stroke-width="0.95" d="M265.0 407.8V451.6M265.5 451.3V452.3M266.1 452.1V461.7"/><path stroke="#26a69a" stroke-width="0.6" d="M266.7 455.3V463.9"/><path stroke="#26a69a" stroke-width="0.95" d="M266.7 460.1V461.7"/><path stroke="#ef5350" stroke-width="0.6" d="M267.2 453.0V473.0M267.8 470.0V494.1M268.4 471.3V497.8M268.9 488.9V504.0"/><path stroke="#ef5350" stroke-width="0.95" d="M267.2 460.1V467.9M267.8 467.9V491.6M268.4 491.1V492.1M268.9 491.6V501.9"/><path stroke="#26a69a" stroke-width="0.6" d="M269.5 484.7V504.0"/><path stroke="#26a69a" stroke-width="0.95" d="M269.5 494.8V501.9"/><path stroke="#ef5350" stroke-width="0.6" d="M270.1 494.1V502.1M270.6 472.5V500.8"/><path stroke="#ef5350" stroke-width="0.95" d="M270.1 494.8V500.1M270.6 499.9V500.9"/><path stroke="#26a69a" stroke-width="0.6" d="M271.2 494.9V502.9M271.8 494.0V502.9M272.3 492.4V496.3"/><path stroke="#26a69a" stroke-width="0.95" d="M271.2 497.3V500.7M271.8 495.9V497.3M272.3 493.4V495.9"/><path stroke="#ef5350" stroke-width="0.6" d="M272.9 468.0V495.6M273.5 485.8V503.0"/><path stroke="#ef5350" stroke-width="0.95" d="M272.9 493.2V494.2M273.5 494.1V497.9"/><path stroke="#26a69a" stroke-width="0.6" d="M274.0 473.6V501.6"/><path stroke="#26a69a" stroke-width="0.95" d="M274.0 480.0V497.9"/><path stroke="#ef5350" stroke-width="0.6" d="M274.6 474.3V495.9M275.2 498.0V547.7M275.7 498.0V514.3M276.3 499.8V549.9"/><path stroke="#ef5350" stroke-width="0.95" d="M274.6 480.0V492.3M275.2 492.3V501.4M275.7 501.4V505.3M276.3 505.3V549.6"/><path stroke="#26a69a" stroke-width="0.6" d="M276.8 506.5V558.0"/><path stroke="#26a69a" stroke-width="0.95" d="M276.8 515.2V549.6"/><path stroke="#ef5350" stroke-width="0.6" d="M277.4 505.4V549.3"/><path stroke="#ef5350" stroke-width="0.95" d="M277.4 515.2V533.9"/><path stroke="#26a69a" stroke-width="0.6" d="M278.0 514.0V528.0"/><path stroke="#26a69a" stroke-width="0.95" d="M278.0 515.8V533.9"/><path stroke="#ef5350" stroke-width="0.6" d="M278.5 515.7V519.9"/><path stroke="#ef5350" stroke-width="0.95" d="M278.5 515.8V518.0"/><path stroke="#26a69a" stroke-width="0.6" d="M279.1 499.9V528.0M279.7 479.0V524.0"/><path stroke="#26a69a" stroke-width="0.95" d="M279.1 512.8V518.0M279.7 483.5V512.8"/><path stroke="#ef5350" stroke-width="0.6" d="M280.2 481.8V498.3M280.8 479.0V542.0M281.4 520.6V542.0"/><path stroke="#ef5350" stroke-width="0.95" d="M280.2 483.5V487.9M280.8 487.9V529.9M281.4 529.7V530.7"/><path stroke="#26a69a" stroke-width="0.6" d="M281.9 485.3V540.7M282.5 513.2V529.3"/><path stroke="#26a69a" stroke-width="0.95" d="M281.9 528.7V530.4M282.5 520.9V528.7"/><path stroke="#ef5350" stroke-width="0.6" d="M283.1 506.8V542.0M283.6 529.3V542.0"/><path stroke="#ef5350" stroke-width="0.95" d="M283.1 520.9V536.9M283.6 536.9V538.5"/><path stroke="#26a69a" stroke-width="0.6" d="M284.2 481.3V538.7"/><path stroke="#26a69a" stroke-width="0.95" d="M284.2 521.8V538.5"/><path stroke="#ef5350" stroke-width="0.6" d="M284.8 519.2V538.1M285.3 543.0V578.2M285.9 543.0V552.6"/><path stroke="#ef5350" stroke-width="0.95" d="M284.8 521.6V522.6M285.3 522.4V547.4M285.9 547.4V549.8"/><path stroke="#26a69a" stroke-width="0.6" d="M286.5 546.5V554.0"/><path stroke="#26a69a" stroke-width="0.95" d="M286.5 549.2V550.2"/><path stroke="#ef5350" stroke-width="0.6" d="M287.0 543.0V552.4M287.6 546.6V581.0M288.2 544.2V562.9"/><path stroke="#ef5350" stroke-width="0.95" d="M287.0 549.3V550.3M287.6 550.0V551.7M288.2 551.7V553.4"/><path stroke="#26a69a" stroke-width="0.6" d="M288.7 543.3V554.3M289.3 544.2V551.4"/><path stroke="#26a69a" stroke-width="0.95" d="M288.7 550.2V553.4M289.3 546.1V550.2"/><path stroke="#ef5350" stroke-width="0.6" d="M289.9 544.5V574.2"/><path stroke="#ef5350" stroke-width="0.95" d="M289.9 546.1V559.1"/><path stroke="#26a69a" stroke-width="0.6" d="M290.4 532.5V564.0M291.0 531.7V558.7"/><path stroke="#26a69a" stroke-width="0.95" d="M290.4 553.2V559.1M291.0 535.4V553.2"/><path stroke="#ef5350" stroke-width="0.6" d="M291.6 531.0V560.6M292.1 531.0V536.7M292.7 534.8V539.5M293.2 531.0V564.0"/><path stroke="#ef5350" stroke-width="0.95" d="M291.6 534.9V535.9M292.1 535.3V536.3M292.7 536.1V538.9M293.2 538.9V560.5"/><path stroke="#26a69a" stroke-width="0.6" d="M293.8 550.1V564.0M294.4 549.4V559.9M294.9 535.0V558.7"/><path stroke="#26a69a" stroke-width="0.95" d="M293.8 559.2V560.5M294.4 552.7V559.2M294.9 551.1V552.7"/><path stroke="#ef5350" stroke-width="0.6" d="M295.5 547.3V555.6M296.1 548.1V564.0"/><path stroke="#ef5350" stroke-width="0.95" d="M295.5 550.9V551.9M296.1 551.6V558.2"/><path stroke="#26a69a" stroke-width="0.6" d="M296.6 542.2V559.7M297.2 518.1V536.0M297.8 493.7V521.5"/><path stroke="#26a69a" stroke-width="0.95" d="M296.6 544.2V558.2M297.2 519.5V544.2M297.8 507.7V519.5"/><path stroke="#ef5350" stroke-width="0.6" d="M298.3 500.8V523.0"/><path stroke="#ef5350" stroke-width="0.95" d="M298.3 507.7V510.0"/><path stroke="#26a69a" stroke-width="0.6" d="M298.9 488.8V535.1"/><path stroke="#26a69a" stroke-width="0.95" d="M298.9 490.0V510.0"/><path stroke="#ef5350" stroke-width="0.6" d="M299.5 487.0V520.4"/><path stroke="#ef5350" stroke-width="0.95" d="M299.5 490.0V507.4"/><path stroke="#26a69a" stroke-width="0.6" d="M300.0 489.9V508.9"/><path stroke="#26a69a" stroke-width="0.95" d="M300.0 498.3V507.4"/><path stroke="#ef5350" stroke-width="0.6" d="M300.6 487.0V526.6"/><path stroke="#ef5350" stroke-width="0.95" d="M300.6 498.3V523.9"/><path stroke="#26a69a" stroke-width="0.6" d="M301.2 507.1V549.5M301.7 496.7V507.6"/><path stroke="#26a69a" stroke-width="0.95" d="M301.2 507.2V523.9M301.7 497.3V507.2"/><path stroke="#ef5350" stroke-width="0.6" d="M302.3 494.0V514.0"/><path stroke="#ef5350" stroke-width="0.95" d="M302.3 497.3V512.8"/><path stroke="#26a69a" stroke-width="0.6" d="M302.9 505.8V531.9"/><path stroke="#26a69a" stroke-width="0.95" d="M302.9 511.3V512.8"/><path stroke="#ef5350" stroke-width="0.6" d="M303.4 507.6V550.4M304.0 511.2V551.0"/><path stroke="#ef5350" stroke-width="0.95" d="M303.4 511.3V524.5M304.0 524.5V545.2"/><path stroke="#26a69a" stroke-width="0.6" d="M304.6 501.3V551.0"/><path stroke="#26a69a" stroke-width="0.95" d="M304.6 544.3V545.3"/><path stroke="#ef5350" stroke-width="0.6" d="M305.1 534.4V551.0"/><path stroke="#ef5350" stroke-width="0.95" d="M305.1 544.5V547.4"/><path stroke="#26a69a" stroke-width="0.6" d="M305.7 523.0V551.0"/><path stroke="#26a69a" stroke-width="0.95" d="M305.7 527.3V547.4"/><path stroke="#ef5350" stroke-width="0.6" d="M306.3 520.4V531.7"/><path stroke="#ef5350" stroke-width="0.95" d="M306.3 527.3V531.2"/><path stroke="#26a69a" stroke-width="0.6" d="M306.8 508.1V534.1"/><path stroke="#26a69a" stroke-width="0.95" d="M306.8 530.4V531.4"/><path stroke="#ef5350" stroke-width="0.6" d="M307.4 527.3V536.0"/><path stroke="#ef5350" stroke-width="0.95" d="M307.4 530.6V533.9"/><path stroke="#26a69a" stroke-width="0.6" d="M308.0 525.6V536.0M308.5 517.6V536.0"/><path stroke="#26a69a" stroke-width="0.95" d="M308.0 529.5V533.9M308.5 525.5V529.5"/><path stroke="#ef5350" stroke-width="0.6" d="M309.1 507.0V536.0"/><path stroke="#ef5350" stroke-width="0.95" d="M309.1 525.5V534.2"/><path stroke="#26a69a" stroke-width="0.6" d="M309.6 524.3V534.4"/><path stroke="#26a69a" stroke-width="0.95" d="M309.6 524.8V534.2"/><path stroke="#ef5350" stroke-width="0.6" d="M310.2 516.0V536.0"/><path stroke="#ef5350" stroke-width="0.95" d="M310.2 524.8V532.9"/><path stroke="#26a69a" stroke-width="0.6" d="M310.8 522.9V535.9"/><path stroke="#26a69a" stroke-width="0.95" d="M310.8 523.0V532.9"/><path stroke="#ef5350" stroke-width="0.6" d="M311.3 511.0V530.6"/><path stroke="#ef5350" stroke-width="0.95" d="M311.3 523.0V529.7"/><path stroke="#26a69a" stroke-width="0.6" d="M311.9 524.9V530.5"/><path stroke="#26a69a" stroke-width="0.95" d="M311.9 528.5V529.7"/><path stroke="#ef5350" stroke-width="0.6" d="M312.5 527.1V532.5M313.0 528.6V532.6"/><path stroke="#ef5350" stroke-width="0.95" d="M312.5 528.1V529.1M313.0 528.8V529.9"/><path stroke="#26a69a" stroke-width="0.6" d="M313.6 508.0V534.2"/><path stroke="#26a69a" stroke-width="0.95" d="M313.6 518.5V529.9"/><path stroke="#ef5350" stroke-width="0.6" d="M314.2 527.5V528.5M314.7 530.0V533.9M315.3 532.7V541.0M315.9 538.4V548.7M316.4 546.6V556.2M317.0 554.3V566.0M317.6 566.0V577.2M318.1 575.3V589.8M318.7 588.6V608.0M319.3 601.6V613.1M319.8 610.8V619.2M320.4 618.0V631.0M321.0 626.3V636.9M321.5 634.5V647.6M322.1 643.6V653.7M322.7 651.2V667.0M323.2 661.3V676.0"/><path stroke="#ef5350" stroke-width="0.95" d="M314.2 518.5V525.7M314.7 525.7V532.9M315.3 532.9V540.1M315.9 540.1V547.3M316.4 547.3V554.5M317.0 554.5V561.7M317.6 561.7V575.4M318.1 575.4V589.2M318.7 589.2V603.0M319.3 603.0V611.1M319.8 611.1V619.2M320.4 619.2V627.3M321.0 627.3V635.8M321.5 635.8V644.4M322.1 644.4V652.9M322.7 652.9V661.5M323.2 661.5V674.3"/><path stroke="#26a69a" stroke-width="0.6" d="M323.8 668.5V676.0M324.4 664.1V675.9M324.9 649.0V676.0M325.5 664.3V673.6M326.0 662.2V674.9"/><path stroke="#26a69a" stroke-width="0.95" d="M323.8 673.1V674.3M324.4 671.5V673.1M324.9 669.1V671.5M325.5 667.4V669.1M326.0 666.8V667.8"/><path stroke="#ef5350" stroke-width="0.6" d="M326.6 667.0V674.4M327.2 673.6V683.3M327.7 679.3V686.6M328.3 686.1V694.0M328.9 690.5V699.6M329.4 697.4V711.0M330.0 707.0V725.0"/><path stroke="#ef5350" stroke-width="0.95" d="M326.6 667.2V673.6M327.2 673.6V680.0M327.7 680.0V686.5M328.3 686.5V692.9M328.9 692.9V699.3M329.4 699.3V705.7M330.0 705.7V712.1"/><path stroke="#26a69a" stroke-width="0.6" d="M330.6 707.5V712.5"/><path stroke="#26a69a" stroke-width="0.95" d="M330.6 708.8V712.1"/><path stroke="#ef5350" stroke-width="0.6" d="M331.1 708.7V713.6M331.7 725.0V727.1M332.3 725.3V742.7M332.8 736.2V753.3M333.4 749.0V764.2M334.0 762.8V784.0"/><path stroke="#ef5350" stroke-width="0.95" d="M331.1 708.8V713.3M331.7 713.3V726.1M332.3 726.1V738.8M332.8 738.8V751.5M333.4 751.5V764.2M334.0 764.2V776.9"/><path stroke="#26a69a" stroke-width="0.6" d="M334.5 689.0V758.0"/><path stroke="#26a69a" stroke-width="0.95" d="M334.5 695.1V776.9"/><path stroke="#ef5350" stroke-width="0.6" d="M335.1 689.0V734.4M335.7 713.3V758.0"/><path stroke="#ef5350" stroke-width="0.95" d="M335.1 695.1V714.9M335.7 714.9V750.0"/><path stroke="#26a69a" stroke-width="0.6" d="M336.2 720.1V758.0"/><path stroke="#26a69a" stroke-width="0.95" d="M336.2 729.4V750.0"/><path stroke="#ef5350" stroke-width="0.6" d="M336.8 721.8V756.7"/><path stroke="#ef5350" stroke-width="0.95" d="M336.8 729.4V735.1"/><path stroke="#26a69a" stroke-width="0.6" d="M337.4 687.2V725.0M337.9 687.0V696.6"/><path stroke="#26a69a" stroke-width="0.95" d="M337.4 692.8V735.1M337.9 689.3V692.8"/><path stroke="#ef5350" stroke-width="0.6" d="M338.5 687.0V720.6M339.1 692.3V701.4M339.6 688.8V724.9"/><path stroke="#ef5350" stroke-width="0.95" d="M338.5 689.3V693.5M339.1 693.5V701.3M339.6 701.3V722.7"/><path stroke="#26a69a" stroke-width="0.6" d="M340.2 694.4V725.0M340.8 686.7V722.0M341.3 673.0V695.9"/><path stroke="#26a69a" stroke-width="0.95" d="M340.2 701.3V722.7M340.8 692.0V701.3M341.3 680.3V692.0"/><path stroke="#ef5350" stroke-width="0.6" d="M341.9 679.3V686.2M342.4 676.8V695.3M343.0 683.1V694.0"/><path stroke="#ef5350" stroke-width="0.95" d="M341.9 679.9V680.9M342.4 680.5V685.3M343.0 685.3V691.3"/><path stroke="#26a69a" stroke-width="0.6" d="M343.6 687.7V698.0M344.1 683.7V689.0"/><path stroke="#26a69a" stroke-width="0.95" d="M343.6 688.1V691.3M344.1 684.0V688.1"/><path stroke="#ef5350" stroke-width="0.6" d="M344.7 682.0V689.0"/><path stroke="#ef5350" stroke-width="0.95" d="M344.7 684.0V686.6"/><path stroke="#26a69a" stroke-width="0.6" d="M345.3 683.1V689.2"/><path stroke="#26a69a" stroke-width="0.95" d="M345.3 684.8V686.6"/><path stroke="#ef5350" stroke-width="0.6" d="M345.8 683.1V696.0"/><path stroke="#ef5350" stroke-width="0.95" d="M345.8 684.8V689.2"/><path stroke="#26a69a" stroke-width="0.6" d="M346.4 647.4V689.0M347.0 613.3V656.9M347.5 567.0V620.9"/><path stroke="#26a69a" stroke-width="0.95" d="M346.4 653.4V689.2M347.0 617.5V653.4M347.5 581.6V617.5"/><path stroke="#ef5350" stroke-width="0.6" d="M348.1 607.0V624.1M348.7 610.6V634.4M349.2 629.9V647.0"/><path stroke="#ef5350" stroke-width="0.95" d="M348.1 581.6V617.1M348.7 617.1V633.9M349.2 633.9V639.3"/><path stroke="#26a69a" stroke-width="0.6" d="M349.8 621.6V654.0M350.4 607.0V627.6"/><path stroke="#26a69a" stroke-width="0.95" d="M349.8 626.1V639.3M350.4 615.2V626.1"/><path stroke="#ef5350" stroke-width="0.6" d="M350.9 609.9V632.6"/><path stroke="#ef5350" stroke-width="0.95" d="M350.9 615.2V627.1"/><path stroke="#26a69a" stroke-width="0.6" d="M351.5 619.3V633.6M352.1 615.4V626.4M352.6 607.0V621.3"/><path stroke="#26a69a" stroke-width="0.95" d="M351.5 624.6V627.1M352.1 619.5V624.6M352.6 613.2V619.5"/><path stroke="#ef5350" stroke-width="0.6" d="M353.2 611.8V636.0"/><path stroke="#ef5350" stroke-width="0.95" d="M353.2 613.2V627.3"/><path stroke="#26a69a" stroke-width="0.6" d="M353.8 604.0V623.0M354.3 588.1V618.6M354.9 584.0V591.4"/><path stroke="#26a69a" stroke-width="0.95" d="M353.8 610.4V627.3M354.3 589.1V610.4M354.9 586.5V589.1"/><path stroke="#ef5350" stroke-width="0.6" d="M355.5 584.0V622.7M356.0 627.0V637.5M356.6 628.2V638.7"/><path stroke="#ef5350" stroke-width="0.95" d="M355.5 586.5V618.8M356.0 618.8V636.0M356.6 635.9V636.9"/><path stroke="#26a69a" stroke-width="0.6" d="M357.2 634.7V639.4M357.7 628.5V645.0"/><path stroke="#26a69a" stroke-width="0.95" d="M357.2 635.6V636.9M357.7 629.1V635.6"/><path stroke="#ef5350" stroke-width="0.6" d="M358.3 627.0V633.4M358.8 627.0V636.0M359.4 631.0V643.0M360.0 638.6V649.5M360.5 644.3V658.0"/><path stroke="#ef5350" stroke-width="0.95" d="M358.3 629.1V630.2M358.8 630.2V635.8M359.4 635.8V640.5M360.0 640.5V645.6M360.5 645.6V657.8"/><path stroke="#26a69a" stroke-width="0.6" d="M361.1 638.2V663.0M361.7 626.8V640.0M362.2 634.3V640.0M362.8 626.9V639.1"/><path stroke="#26a69a" stroke-width="0.95" d="M361.1 648.2V657.8M361.7 637.6V648.2M362.2 635.2V637.6M362.8 629.8V635.2"/><path stroke="#ef5350" stroke-width="0.6" d="M363.4 629.4V635.3"/><path stroke="#ef5350" stroke-width="0.95" d="M363.4 629.8V633.0"/><path stroke="#26a69a" stroke-width="0.6" d="M363.9 625.0V634.1M364.5 594.2V618.0M365.1 592.3V609.7"/><path stroke="#26a69a" stroke-width="0.95" d="M363.9 626.4V633.0M364.5 602.1V626.4M365.1 594.3V602.1"/><path stroke="#ef5350" stroke-width="0.6" d="M365.6 591.0V616.6M366.2 591.0V603.9M366.8 592.7V611.6"/><path stroke="#ef5350" stroke-width="0.95" d="M365.6 594.3V600.2M366.2 600.2V601.2M366.8 601.2V609.3"/><path stroke="#26a69a" stroke-width="0.6" d="M367.3 591.0V611.5M367.9 581.5V591.0"/><path stroke="#26a69a" stroke-width="0.95" d="M367.3 596.2V609.3M367.9 583.8V596.2"/><path stroke="#ef5350" stroke-width="0.6" d="M368.5 583.3V591.0"/><path stroke="#ef5350" stroke-width="0.95" d="M368.5 583.8V589.6"/><path stroke="#26a69a" stroke-width="0.6" d="M369.0 586.8V591.0M369.6 578.0V588.9M370.2 583.0V587.7M370.7 581.6V590.7"/><path stroke="#26a69a" stroke-width="0.95" d="M369.0 588.0V589.6M369.6 586.4V588.0M370.2 585.5V586.5M370.7 584.8V585.8"/><path stroke="#ef5350" stroke-width="0.6" d="M371.3 584.2V588.3M371.9 577.0V590.2"/><path stroke="#ef5350" stroke-width="0.95" d="M371.3 584.7V585.7M371.9 585.7V589.9"/><path stroke="#26a69a" stroke-width="0.6" d="M372.4 588.3V590.1M373.0 586.3V591.0"/><path stroke="#26a69a" stroke-width="0.95" d="M372.4 589.2V590.2M373.0 588.8V589.8"/><path stroke="#ef5350" stroke-width="0.6" d="M373.5 596.0V639.4M374.1 600.9V625.9"/><path stroke="#ef5350" stroke-width="0.95" d="M373.5 589.0V608.1M374.1 608.1V621.8"/><path stroke="#26a69a" stroke-width="0.6" d="M374.7 601.1V624.1"/><path stroke="#26a69a" stroke-width="0.95" d="M374.7 602.0V621.8"/><path stroke="#ef5350" stroke-width="0.6" d="M375.2 601.1V641.0"/><path stroke="#ef5350" stroke-width="0.95" d="M375.2 602.0V638.3"/><path stroke="#26a69a" stroke-width="0.6" d="M375.8 627.1V641.0M376.4 623.1V637.0M376.9 615.4V630.9"/><path stroke="#26a69a" stroke-width="0.95" d="M375.8 629.6V638.3M376.4 626.2V629.6M376.9 616.3V626.2"/><path stroke="#ef5350" stroke-width="0.6" d="M377.5 614.9V620.5M378.1 616.7V643.0"/><path stroke="#ef5350" stroke-width="0.95" d="M377.5 616.2V617.2M378.1 617.1V620.6"/><path stroke="#26a69a" stroke-width="0.6" d="M378.6 612.6V630.3"/><path stroke="#26a69a" stroke-width="0.95" d="M378.6 614.1V620.6"/><path stroke="#ef5350" stroke-width="0.6" d="M379.2 611.0V617.9M379.8 611.0V619.1M380.3 614.2V640.9"/><path stroke="#ef5350" stroke-width="0.95" d="M379.2 614.1V616.5M379.8 616.4V617.4M380.3 617.2V618.2"/><path stroke="#26a69a" stroke-width="0.6" d="M380.9 611.8V624.2"/><path stroke="#26a69a" stroke-width="0.95" d="M380.9 614.3V618.1"/><path stroke="#ef5350" stroke-width="0.6" d="M381.5 608.1V640.0"/><path stroke="#ef5350" stroke-width="0.95" d="M381.5 614.3V628.4"/><path stroke="#26a69a" stroke-width="0.6" d="M382.0 613.1V634.0"/><path stroke="#26a69a" stroke-width="0.95" d="M382.0 620.5V628.4"/><path stroke="#ef5350" stroke-width="0.6" d="M382.6 600.0V635.2M383.2 629.9V635.0"/><path stroke="#ef5350" stroke-width="0.95" d="M382.6 620.5V631.2M383.2 631.2V632.4"/><path stroke="#26a69a" stroke-width="0.6" d="M383.7 610.3V639.1"/><path stroke="#26a69a" stroke-width="0.95" d="M383.7 610.4V632.4"/><path stroke="#ef5350" stroke-width="0.6" d="M384.3 606.1V619.8M384.9 609.5V618.5M385.4 608.7V627.0M386.0 615.4V621.5"/><path stroke="#ef5350" stroke-width="0.95" d="M384.3 610.3V611.3M384.9 611.2V613.7M385.4 613.7V615.6M386.0 615.6V617.6"/><path stroke="#26a69a" stroke-width="0.6" d="M386.6 603.6V621.3M387.1 603.2V621.8"/><path stroke="#26a69a" stroke-width="0.95" d="M386.6 617.0V618.0M387.1 604.6V617.4"/><path stroke="#ef5350" stroke-width="0.6" d="M387.7 600.0V623.7"/><path stroke="#ef5350" stroke-width="0.95" d="M387.7 604.6V610.6"/><path stroke="#26a69a" stroke-width="0.6" d="M388.3 603.5V610.6"/><path stroke="#26a69a" stroke-width="0.95" d="M388.3 609.0V610.6"/><path stroke="#ef5350" stroke-width="0.6" d="M388.8 600.4V617.8"/><path stroke="#ef5350" stroke-width="0.95" d="M388.8 609.0V613.8"/><path stroke="#26a69a" stroke-width="0.6" d="M389.4 588.3V605.0M389.9 570.6V594.8M390.5 570.6V592.4M391.1 565.0V598.6"/><path stroke="#26a69a" stroke-width="0.95" d="M389.4 594.2V613.8M389.9 591.5V594.2M390.5 580.1V591.5M391.1 569.7V580.1"/><path stroke="#ef5350" stroke-width="0.6" d="M391.6 567.9V581.7M392.2 571.2V601.6"/><path stroke="#ef5350" stroke-width="0.95" d="M391.6 569.7V580.3M392.2 580.3V601.4"/><path stroke="#26a69a" stroke-width="0.6" d="M392.8 576.8V603.9M393.3 565.0V604.0M393.9 536.0V568.6M394.5 547.3V569.0"/><path stroke="#26a69a" stroke-width="0.95" d="M392.8 577.3V601.4M393.3 567.4V577.3M393.9 566.5V567.5M394.5 553.9V566.6"/><path stroke="#ef5350" stroke-width="0.6" d="M395.0 549.7V567.9"/><path stroke="#ef5350" stroke-width="0.95" d="M395.0 553.9V561.5"/><path stroke="#26a69a" stroke-width="0.6" d="M395.6 545.8V565.6"/><path stroke="#26a69a" stroke-width="0.95" d="M395.6 555.4V561.5"/><path stroke="#ef5350" stroke-width="0.6" d="M396.2 540.5V565.4"/><path stroke="#ef5350" stroke-width="0.95" d="M396.2 555.4V563.2"/><path stroke="#26a69a" stroke-width="0.6" d="M396.7 555.8V563.5M397.3 542.0V556.0M397.9 525.4V553.7M398.4 519.0V534.3"/><path stroke="#26a69a" stroke-width="0.95" d="M396.7 560.0V563.2M397.3 547.0V560.0M397.9 527.9V547.0M398.4 527.1V528.1"/><path stroke="#ef5350" stroke-width="0.6" d="M399.0 525.6V532.5M399.6 526.5V552.1"/><path stroke="#ef5350" stroke-width="0.95" d="M399.0 527.2V529.0M399.6 528.7V529.7"/><path stroke="#26a69a" stroke-width="0.6" d="M400.1 513.0V530.5"/><path stroke="#26a69a" stroke-width="0.95" d="M400.1 517.2V529.4"/><path stroke="#ef5350" stroke-width="0.6" d="M400.7 513.0V538.4"/><path stroke="#ef5350" stroke-width="0.95" d="M400.7 517.2V523.0"/><path stroke="#26a69a" stroke-width="0.6" d="M401.3 513.0V537.0"/><path stroke="#26a69a" stroke-width="0.95" d="M401.3 521.3V523.0"/><path stroke="#ef5350" stroke-width="0.6" d="M401.8 513.0V569.9M402.4 551.7V578.0M403.0 554.1V591.0"/><path stroke="#ef5350" stroke-width="0.95" d="M401.8 521.3V563.4M402.4 563.4V570.5M403.0 570.5V584.5"/><path stroke="#26a69a" stroke-width="0.6" d="M403.5 565.6V591.0"/><path stroke="#26a69a" stroke-width="0.95" d="M403.5 570.2V584.5"/><path stroke="#ef5350" stroke-width="0.6" d="M404.1 564.0V588.6M404.7 575.2V580.4"/><path stroke="#ef5350" stroke-width="0.95" d="M404.1 570.2V576.5M404.7 576.5V580.3"/><path stroke="#26a69a" stroke-width="0.6" d="M405.2 553.0V590.2M405.8 559.2V578.7M406.3 556.4V586.6"/><path stroke="#26a69a" stroke-width="0.95" d="M405.2 570.7V580.3M405.8 566.3V570.7M406.3 560.6V566.3"/><path stroke="#ef5350" stroke-width="0.6" d="M406.9 555.9V574.7"/><path stroke="#ef5350" stroke-width="0.95" d="M406.9 560.6V570.0"/><path stroke="#26a69a" stroke-width="0.6" d="M407.5 568.2V578.0M408.0 561.3V572.3M408.6 551.0V568.1M409.2 552.6V555.5M409.7 551.0V574.3"/><path stroke="#26a69a" stroke-width="0.95" d="M407.5 568.3V570.0M408.0 563.4V568.3M408.6 554.1V563.4M409.2 553.6V554.6M409.7 552.7V554.1"/><path stroke="#ef5350" stroke-width="0.6" d="M410.3 550.9V555.5M410.9 538.4V565.0"/><path stroke="#ef5350" stroke-width="0.95" d="M410.3 552.7V554.5M410.9 554.5V562.8"/><path stroke="#26a69a" stroke-width="0.6" d="M411.4 555.4V564.1M412.0 541.6V561.5M412.6 539.7V545.1"/><path stroke="#26a69a" stroke-width="0.95" d="M411.4 558.1V562.8M412.0 544.4V558.1M412.6 540.5V544.4"/><path stroke="#ef5350" stroke-width="0.6" d="M413.1 538.0V553.3"/><path stroke="#ef5350" stroke-width="0.95" d="M413.1 540.5V552.4"/><path stroke="#26a69a" stroke-width="0.6" d="M413.7 543.6V562.2"/><path stroke="#26a69a" stroke-width="0.95" d="M413.7 544.6V552.4"/><path stroke="#ef5350" stroke-width="0.6" d="M414.3 542.1V551.0M414.8 531.0V565.3"/><path stroke="#ef5350" stroke-width="0.95" d="M414.3 544.2V545.2M414.8 544.7V560.6"/><path stroke="#26a69a" stroke-width="0.6" d="M415.4 533.8V563.8M416.0 536.1V567.0"/><path stroke="#26a69a" stroke-width="0.95" d="M415.4 541.0V560.6M416.0 540.1V541.1"/><path stroke="#ef5350" stroke-width="0.6" d="M416.5 538.6V552.2"/><path stroke="#ef5350" stroke-width="0.95" d="M416.5 540.2V542.0"/><path stroke="#26a69a" stroke-width="0.6" d="M417.1 534.3V548.8"/><path stroke="#26a69a" stroke-width="0.95" d="M417.1 537.6V542.0"/><path stroke="#ef5350" stroke-width="0.6" d="M417.7 534.7V541.6"/><path stroke="#ef5350" stroke-width="0.95" d="M417.7 537.6V540.2"/><path stroke="#26a69a" stroke-width="0.6" d="M418.2 526.4V543.2M418.8 530.3V537.3"/><path stroke="#26a69a" stroke-width="0.95" d="M418.2 535.2V540.2M418.8 531.5V535.2"/><path stroke="#ef5350" stroke-width="0.6" d="M419.4 530.4V545.0"/><path stroke="#ef5350" stroke-width="0.95" d="M419.4 531.5V541.3"/><path stroke="#26a69a" stroke-width="0.6" d="M419.9 525.4V545.0"/><path stroke="#26a69a" stroke-width="0.95" d="M419.9 527.4V541.3"/><path stroke="#ef5350" stroke-width="0.6" d="M420.5 523.0V538.5"/><path stroke="#ef5350" stroke-width="0.95" d="M420.5 527.4V536.5"/><path stroke="#26a69a" stroke-width="0.6" d="M421.1 532.2V540.7"/><path stroke="#26a69a" stroke-width="0.95" d="M421.1 533.5V536.5"/><path stroke="#ef5350" stroke-width="0.6" d="M421.6 531.1V543.5"/><path stroke="#ef5350" stroke-width="0.95" d="M421.6 533.5V541.6"/><path stroke="#26a69a" stroke-width="0.6" d="M422.2 533.7V541.9M422.7 521.7V527.0M423.3 515.3V525.6"/><path stroke="#26a69a" stroke-width="0.95" d="M422.2 535.1V541.6M422.7 522.4V535.1M423.3 515.9V522.4"/><path stroke="#ef5350" stroke-width="0.6" d="M423.9 514.6V526.2"/><path stroke="#ef5350" stroke-width="0.95" d="M423.9 515.9V525.5"/><path stroke="#26a69a" stroke-width="0.6" d="M424.4 510.0V525.9"/><path stroke="#26a69a" stroke-width="0.95" d="M424.4 523.4V525.5"/><path stroke="#ef5350" stroke-width="0.6" d="M425.0 519.7V525.3"/><path stroke="#ef5350" stroke-width="0.95" d="M425.0 523.4V525.2"/><path stroke="#26a69a" stroke-width="0.6" d="M425.6 522.7V527.0M426.1 520.5V526.1M426.7 518.0V527.5"/><path stroke="#26a69a" stroke-width="0.95" d="M425.6 524.0V525.2M426.1 523.2V524.2M426.7 522.0V523.4"/><path stroke="#ef5350" stroke-width="0.6" d="M427.3 518.0V551.6"/><path stroke="#ef5350" stroke-width="0.95" d="M427.3 522.0V548.6"/><path stroke="#26a69a" stroke-width="0.6" d="M427.8 531.6V553.0M428.4 522.7V536.9"/><path stroke="#26a69a" stroke-width="0.95" d="M427.8 535.3V548.6M428.4 528.4V535.3"/><path stroke="#ef5350" stroke-width="0.6" d="M429.0 524.2V542.8"/><path stroke="#ef5350" stroke-width="0.95" d="M429.0 528.4V538.0"/><path stroke="#26a69a" stroke-width="0.6" d="M429.5 536.0V540.7"/><path stroke="#26a69a" stroke-width="0.95" d="M429.5 537.0V538.0"/><path stroke="#ef5350" stroke-width="0.6" d="M430.1 536.0V552.0M430.7 536.0V539.1M431.2 536.7V543.8"/><path stroke="#ef5350" stroke-width="0.95" d="M430.1 537.0V538.3M430.7 538.1V539.1M431.2 539.0V543.4"/><path stroke="#26a69a" stroke-width="0.6" d="M431.8 537.5V545.3M432.4 518.0V532.0"/><path stroke="#26a69a" stroke-width="0.95" d="M431.8 539.2V543.4M432.4 522.4V539.2"/><path stroke="#ef5350" stroke-width="0.6" d="M432.9 519.7V525.0M433.5 522.4V530.3"/><path stroke="#ef5350" stroke-width="0.95" d="M432.9 522.2V523.2M433.5 523.1V526.7"/><path stroke="#26a69a" stroke-width="0.6" d="M434.1 522.5V530.6"/><path stroke="#26a69a" stroke-width="0.95" d="M434.1 523.0V526.7"/><path stroke="#ef5350" stroke-width="0.6" d="M434.6 519.4V526.9"/><path stroke="#ef5350" stroke-width="0.95" d="M434.6 523.0V525.8"/><path stroke="#26a69a" stroke-width="0.6" d="M435.2 519.9V529.2M435.8 497.2V509.0M436.3 490.1V504.2"/><path stroke="#26a69a" stroke-width="0.95" d="M435.2 520.9V525.8M435.8 500.0V520.9M436.3 490.4V500.0"/><path stroke="#ef5350" stroke-width="0.6" d="M436.9 480.0V499.8M437.5 497.3V507.0"/><path stroke="#ef5350" stroke-width="0.95" d="M436.9 490.4V499.1M437.5 499.1V502.4"/><path stroke="#26a69a" stroke-width="0.6" d="M438.0 468.7V480.0"/><path stroke="#26a69a" stroke-width="0.95" d="M438.0 470.4V502.4"/><path stroke="#ef5350" stroke-width="0.6" d="M438.6 469.4V474.6"/><path stroke="#ef5350" stroke-width="0.95" d="M438.6 470.4V471.7"/><path stroke="#26a69a" stroke-width="0.6" d="M439.1 451.0V476.3M439.7 454.2V471.7"/><path stroke="#26a69a" stroke-width="0.95" d="M439.1 467.5V471.7M439.7 457.5V467.5"/><path stroke="#ef5350" stroke-width="0.6" d="M440.3 457.5V476.8"/><path stroke="#ef5350" stroke-width="0.95" d="M440.3 457.5V458.5"/><path stroke="#26a69a" stroke-width="0.6" d="M440.8 453.5V463.7"/><path stroke="#26a69a" stroke-width="0.95" d="M440.8 456.7V458.4"/><path stroke="#ef5350" stroke-width="0.6" d="M441.4 448.1V463.6M442.0 437.4V475.2"/><path stroke="#ef5350" stroke-width="0.95" d="M441.4 456.5V457.5M442.0 457.4V464.0"/><path stroke="#26a69a" stroke-width="0.6" d="M442.5 451.8V469.5M443.1 432.1V479.1"/><path stroke="#26a69a" stroke-width="0.95" d="M442.5 451.9V464.0M443.1 437.3V451.9"/><path stroke="#ef5350" stroke-width="0.6" d="M443.7 433.3V450.8M444.2 429.0V485.0"/><path stroke="#ef5350" stroke-width="0.95" d="M443.7 437.3V450.3M444.2 450.3V477.8"/><path stroke="#26a69a" stroke-width="0.6" d="M444.8 464.9V477.9M445.4 466.9V490.5"/><path stroke="#26a69a" stroke-width="0.95" d="M444.8 473.8V477.8M445.4 472.5V473.8"/><path stroke="#ef5350" stroke-width="0.6" d="M445.9 466.5V480.5M446.5 456.0V488.6M447.1 477.7V491.0"/><path stroke="#ef5350" stroke-width="0.95" d="M445.9 472.5V480.1M446.5 480.1V482.1M447.1 482.1V487.4"/><path stroke="#26a69a" stroke-width="0.6" d="M447.6 474.8V490.5M448.2 459.5V490.7"/><path stroke="#26a69a" stroke-width="0.95" d="M447.6 486.3V487.4M448.2 465.2V486.3"/><path stroke="#ef5350" stroke-width="0.6" d="M448.8 459.2V488.1M449.3 478.7V493.3"/><path stroke="#ef5350" stroke-width="0.95" d="M448.8 465.2V483.9M449.3 483.5V484.5"/><path stroke="#26a69a" stroke-width="0.6" d="M449.9 461.6V484.6"/><path stroke="#26a69a" stroke-width="0.95" d="M449.9 464.9V484.1"/><path stroke="#ef5350" stroke-width="0.6" d="M450.5 457.5V469.0M451.0 464.9V487.3"/><path stroke="#ef5350" stroke-width="0.95" d="M450.5 464.9V466.0M451.0 466.0V485.1"/><path stroke="#26a69a" stroke-width="0.6" d="M451.6 472.2V494.5M452.2 465.3V484.4M452.7 452.0V474.7"/><path stroke="#26a69a" stroke-width="0.95" d="M451.6 478.8V485.1M452.2 471.0V478.8M452.7 466.3V471.0"/><path stroke="#ef5350" stroke-width="0.6" d="M453.3 460.3V500.0"/><path stroke="#ef5350" stroke-width="0.95" d="M453.3 466.3V488.2"/><path stroke="#26a69a" stroke-width="0.6" d="M453.9 436.0V478.0M454.4 453.2V477.7M455.0 450.1V474.1M455.5 441.8V455.7"/><path stroke="#26a69a" stroke-width="0.95" d="M453.9 475.5V488.2M454.4 463.8V475.5M455.0 451.0V463.8M455.5 442.3V451.0"/><path stroke="#ef5350" stroke-width="0.6" d="M456.1 437.9V462.8"/><path stroke="#ef5350" stroke-width="0.95" d="M456.1 442.3V461.6"/><path stroke="#26a69a" stroke-width="0.6" d="M456.7 449.2V468.8"/><path stroke="#26a69a" stroke-width="0.95" d="M456.7 453.9V461.6"/><path stroke="#ef5350" stroke-width="0.6" d="M457.2 450.7V473.7M457.8 448.3V458.0M458.4 441.0V465.2"/><path stroke="#ef5350" stroke-width="0.95" d="M457.2 453.5V454.5M457.8 454.1V457.5M458.4 457.5V460.2"/><path stroke="#26a69a" stroke-width="0.6" d="M458.9 437.8V461.4"/><path stroke="#26a69a" stroke-width="0.95" d="M458.9 440.5V460.2"/><path stroke="#ef5350" stroke-width="0.6" d="M459.5 440.0V478.3M460.1 441.4V470.7"/><path stroke="#ef5350" stroke-width="0.95" d="M459.5 440.5V454.1M460.1 454.1V466.3"/><path stroke="#26a69a" stroke-width="0.6" d="M460.6 440.1V471.7"/><path stroke="#26a69a" stroke-width="0.95" d="M460.6 456.2V466.3"/><path stroke="#ef5350" stroke-width="0.6" d="M461.2 454.5V480.0"/><path stroke="#ef5350" stroke-width="0.95" d="M461.2 456.2V477.7"/><path stroke="#26a69a" stroke-width="0.6" d="M461.8 444.7V480.0"/><path stroke="#26a69a" stroke-width="0.95" d="M461.8 447.5V477.7"/><path stroke="#ef5350" stroke-width="0.6" d="M462.3 440.0V476.4"/><path stroke="#ef5350" stroke-width="0.95" d="M462.3 447.5V466.7"/><path stroke="#26a69a" stroke-width="0.6" d="M462.9 427.5V473.2M463.5 436.7V459.1"/><path stroke="#26a69a" stroke-width="0.95" d="M462.9 453.3V466.7M463.5 447.8V453.3"/><path stroke="#ef5350" stroke-width="0.6" d="M464.0 443.1V479.3M464.6 458.8V473.0"/><path stroke="#ef5350" stroke-width="0.95" d="M464.0 447.8V459.9M464.6 459.9V467.9"/><path stroke="#26a69a" stroke-width="0.6" d="M465.2 427.8V468.8"/><path stroke="#26a69a" stroke-width="0.95" d="M465.2 434.7V467.9"/><path stroke="#ef5350" stroke-width="0.6" d="M465.7 420.0V449.0M466.3 432.2V484.0M466.9 455.1V478.0M467.4 468.0V478.0"/><path stroke="#ef5350" stroke-width="0.95" d="M465.7 434.7V440.6M466.3 440.6V457.5M466.9 457.5V472.0M467.4 471.7V472.7"/><path stroke="#26a69a" stroke-width="0.6" d="M468.0 433.0V473.6M468.6 443.0V457.2"/><path stroke="#26a69a" stroke-width="0.95" d="M468.0 453.2V472.5M468.6 450.8V453.2"/><path stroke="#ef5350" stroke-width="0.6" d="M469.1 450.6V476.3"/><path stroke="#ef5350" stroke-width="0.95" d="M469.1 450.8V452.8"/><path stroke="#26a69a" stroke-width="0.6" d="M469.7 433.0V454.3M470.3 433.0V443.3"/><path stroke="#26a69a" stroke-width="0.95" d="M469.7 439.8V452.8M470.3 434.9V439.8"/><path stroke="#ef5350" stroke-width="0.6" d="M470.8 433.3V450.7M471.4 448.3V459.8"/><path stroke="#ef5350" stroke-width="0.95" d="M470.8 434.9V448.9M471.4 448.9V459.1"/><path stroke="#26a69a" stroke-width="0.6" d="M471.9 453.2V461.0"/><path stroke="#26a69a" stroke-width="0.95" d="M471.9 455.1V459.1"/><path stroke="#ef5350" stroke-width="0.6" d="M472.5 437.9V460.1"/><path stroke="#ef5350" stroke-width="0.95" d="M472.5 455.1V457.1"/><path stroke="#26a69a" stroke-width="0.6" d="M473.1 435.4V461.0M473.6 433.0V460.2"/><path stroke="#26a69a" stroke-width="0.95" d="M473.1 436.9V457.1M473.6 436.2V437.2"/><path stroke="#ef5350" stroke-width="0.6" d="M474.2 433.4V446.3"/><path stroke="#ef5350" stroke-width="0.95" d="M474.2 436.5V443.0"/><path stroke="#26a69a" stroke-width="0.6" d="M474.8 435.5V445.6M475.3 426.6V437.7M475.9 422.6V435.3M476.5 418.0V434.4"/><path stroke="#26a69a" stroke-width="0.95" d="M474.8 436.9V443.0M475.3 429.5V436.9M475.9 428.9V429.9M476.5 421.7V429.2"/><path stroke="#ef5350" stroke-width="0.6" d="M477.0 418.0V448.0"/><path stroke="#ef5350" stroke-width="0.95" d="M477.0 421.7V436.2"/><path stroke="#26a69a" stroke-width="0.6" d="M477.6 412.2V431.0M478.2 390.0V423.9M478.7 413.6V416.0"/><path stroke="#26a69a" stroke-width="0.95" d="M477.6 423.5V436.2M478.2 415.1V423.5M478.7 414.1V415.1"/><path stroke="#ef5350" stroke-width="0.6" d="M479.3 401.4V430.8"/><path stroke="#ef5350" stroke-width="0.95" d="M479.3 414.2V428.2"/><path stroke="#26a69a" stroke-width="0.6" d="M479.9 409.1V431.0"/><path stroke="#26a69a" stroke-width="0.95" d="M479.9 409.9V428.2"/><path stroke="#ef5350" stroke-width="0.6" d="M480.4 406.0V417.5M481.0 416.6V441.0M481.6 429.0V443.6"/><path stroke="#ef5350" stroke-width="0.95" d="M480.4 409.9V417.0M481.0 417.0V437.2M481.6 437.2V438.2"/><path stroke="#26a69a" stroke-width="0.6" d="M482.1 407.9V444.0"/><path stroke="#26a69a" stroke-width="0.95" d="M482.1 422.4V438.1"/><path stroke="#ef5350" stroke-width="0.6" d="M482.7 412.9V440.0M483.3 444.0V453.4M483.8 445.5V461.4"/><path stroke="#ef5350" stroke-width="0.95" d="M482.7 422.4V437.0M483.3 437.0V447.7M483.8 447.7V458.2"/><path stroke="#26a69a" stroke-width="0.6" d="M484.4 444.0V460.4"/><path stroke="#26a69a" stroke-width="0.95" d="M484.4 448.3V458.2"/><path stroke="#ef5350" stroke-width="0.6" d="M485.0 445.7V482.0"/><path stroke="#ef5350" stroke-width="0.95" d="M485.0 448.3V466.8"/><path stroke="#26a69a" stroke-width="0.6" d="M485.5 459.0V473.0"/><path stroke="#26a69a" stroke-width="0.95" d="M485.5 460.5V466.8"/><path stroke="#ef5350" stroke-width="0.6" d="M486.1 453.1V473.0"/><path stroke="#ef5350" stroke-width="0.95" d="M486.1 460.5V470.7"/><path stroke="#26a69a" stroke-width="0.6" d="M486.6 467.5V471.0"/><path stroke="#26a69a" stroke-width="0.95" d="M486.6 469.4V470.7"/><path stroke="#ef5350" stroke-width="0.6" d="M487.2 446.0V471.9"/><path stroke="#ef5350" stroke-width="0.95" d="M487.2 469.2V470.2"/><path stroke="#26a69a" stroke-width="0.6" d="M487.8 464.3V471.7"/><path stroke="#26a69a" stroke-width="0.95" d="M487.8 464.5V469.9"/><path stroke="#ef5350" stroke-width="0.6" d="M488.3 455.3V476.3"/><path stroke="#ef5350" stroke-width="0.95" d="M488.3 464.5V469.9"/><path stroke="#26a69a" stroke-width="0.6" d="M488.9 454.0V492.6"/><path stroke="#26a69a" stroke-width="0.95" d="M488.9 460.9V469.9"/><path stroke="#ef5350" stroke-width="0.6" d="M489.5 456.6V463.8M490.0 454.0V537.0"/><path stroke="#ef5350" stroke-width="0.95" d="M489.5 460.9V462.3M490.0 462.3V496.0"/><path stroke="#26a69a" stroke-width="0.6" d="M490.6 483.5V496.2M491.2 482.4V488.5"/><path stroke="#26a69a" stroke-width="0.95" d="M490.6 487.3V496.0M491.2 483.9V487.3"/><path stroke="#ef5350" stroke-width="0.6" d="M491.7 482.0V518.0"/><path stroke="#ef5350" stroke-width="0.95" d="M491.7 483.9V511.9"/><path stroke="#26a69a" stroke-width="0.6" d="M492.3 501.3V512.0M492.9 482.0V518.0"/><path stroke="#26a69a" stroke-width="0.95" d="M492.3 505.2V511.9M492.9 484.0V505.2"/><path stroke="#ef5350" stroke-width="0.6" d="M493.4 482.0V490.2M494.0 487.7V517.6"/><path stroke="#ef5350" stroke-width="0.95" d="M493.4 484.0V488.2M494.0 488.2V496.2"/><path stroke="#26a69a" stroke-width="0.6" d="M494.6 484.8V496.8"/><path stroke="#26a69a" stroke-width="0.95" d="M494.6 488.6V496.2"/><path stroke="#ef5350" stroke-width="0.6" d="M495.1 471.0V516.0M495.7 508.1V512.4"/><path stroke="#ef5350" stroke-width="0.95" d="M495.1 488.6V508.8M495.7 508.8V511.6"/><path stroke="#26a69a" stroke-width="0.6" d="M496.3 489.3V516.0M496.8 484.0V516.0"/><path stroke="#26a69a" stroke-width="0.95" d="M496.3 498.4V511.6M496.8 491.0V498.4"/><path stroke="#ef5350" stroke-width="0.6" d="M497.4 479.0V515.4"/><path stroke="#ef5350" stroke-width="0.95" d="M497.4 491.0V510.6"/><path stroke="#26a69a" stroke-width="0.6" d="M498.0 494.6V516.0M498.5 475.4V513.6"/><path stroke="#26a69a" stroke-width="0.95" d="M498.0 510.0V511.0M498.5 479.7V510.4"/><path stroke="#ef5350" stroke-width="0.6" d="M499.1 477.0V511.0M499.7 477.7V508.3M500.2 477.4V513.1"/><path stroke="#ef5350" stroke-width="0.95" d="M499.1 479.7V487.0M499.7 487.0V499.9M500.2 499.9V510.7"/><path stroke="#26a69a" stroke-width="0.6" d="M500.8 480.3V513.8M501.4 469.0V516.0"/><path stroke="#26a69a" stroke-width="0.95" d="M500.8 485.4V510.7M501.4 471.7V485.4"/><path stroke="#ef5350" stroke-width="0.6" d="M501.9 469.0V478.4M502.5 474.0V485.4M503.0 474.0V484.7M503.6 474.0V499.7"/><path stroke="#ef5350" stroke-width="0.95" d="M501.9 471.7V473.6M502.5 473.6V479.1M503.0 478.9V479.9M503.6 479.7V494.6"/><path stroke="#26a69a" stroke-width="0.6" d="M504.2 481.2V502.7"/><path stroke="#26a69a" stroke-width="0.95" d="M504.2 487.9V494.6"/><path stroke="#ef5350" stroke-width="0.6" d="M504.7 484.7V493.6M505.3 474.4V509.0"/><path stroke="#ef5350" stroke-width="0.95" d="M504.7 487.9V490.9M505.3 490.9V505.0"/><path stroke="#26a69a" stroke-width="0.6" d="M505.9 491.3V510.3"/><path stroke="#26a69a" stroke-width="0.95" d="M505.9 491.4V505.0"/><path stroke="#ef5350" stroke-width="0.6" d="M506.4 489.2V497.2M507.0 489.8V508.9M507.6 495.7V512.0"/><path stroke="#ef5350" stroke-width="0.95" d="M506.4 491.4V493.3M507.0 493.3V504.2M507.6 504.2V510.2"/><path stroke="#26a69a" stroke-width="0.6" d="M508.1 490.1V512.0M508.7 486.0V496.6"/><path stroke="#26a69a" stroke-width="0.95" d="M508.1 493.0V510.2M508.7 491.0V493.0"/><path stroke="#ef5350" stroke-width="0.6" d="M509.3 488.1V500.5M509.8 495.6V501.0"/><path stroke="#ef5350" stroke-width="0.95" d="M509.3 491.0V496.9M509.8 496.9V499.8"/><path stroke="#26a69a" stroke-width="0.6" d="M510.4 494.4V500.7"/><path stroke="#26a69a" stroke-width="0.95" d="M510.4 497.1V499.8"/><path stroke="#ef5350" stroke-width="0.6" d="M511.0 484.0V500.2M511.5 495.9V501.0"/><path stroke="#ef5350" stroke-width="0.95" d="M511.0 497.0V498.0M511.5 497.9V499.1"/><path stroke="#26a69a" stroke-width="0.6" d="M512.1 491.3V500.4M512.7 491.0V493.9M513.2 469.7V482.0M513.8 467.8V477.6"/><path stroke="#26a69a" stroke-width="0.95" d="M512.1 493.7V499.1M512.7 492.7V493.7M513.2 473.9V492.7M513.8 473.2V474.2"/><path stroke="#ef5350" stroke-width="0.6" d="M514.4 450.0V482.0M514.9 471.6V481.9"/><path stroke="#ef5350" stroke-width="0.95" d="M514.4 473.6V475.0M514.9 475.0V478.8"/><path stroke="#26a69a" stroke-width="0.6" d="M515.5 473.7V482.0M516.1 470.4V475.0M516.6 452.2V475.0M517.2 450.4V473.6"/><path stroke="#26a69a" stroke-width="0.95" d="M515.5 475.1V478.8M516.1 470.6V475.1M516.6 469.6V470.6M517.2 453.4V469.6"/><path stroke="#ef5350" stroke-width="0.6" d="M517.8 452.4V470.9"/><path stroke="#ef5350" stroke-width="0.95" d="M517.8 453.4V460.1"/><path stroke="#26a69a" stroke-width="0.6" d="M518.3 450.0V461.4M518.9 430.7V456.8M519.4 432.3V453.2M520.0 427.6V459.0M520.6 425.0V430.9"/><path stroke="#26a69a" stroke-width="0.95" d="M518.3 452.0V460.1M518.9 450.9V452.0M519.4 441.8V450.9M520.0 430.6V441.8M520.6 429.5V430.6"/><path stroke="#ef5350" stroke-width="0.6" d="M521.1 425.0V455.0"/><path stroke="#ef5350" stroke-width="0.95" d="M521.1 429.5V454.7"/><path stroke="#26a69a" stroke-width="0.6" d="M521.7 440.8V457.5"/><path stroke="#26a69a" stroke-width="0.95" d="M521.7 444.1V454.7"/><path stroke="#ef5350" stroke-width="0.6" d="M522.3 440.0V457.5"/><path stroke="#ef5350" stroke-width="0.95" d="M522.3 444.1V455.9"/><path stroke="#26a69a" stroke-width="0.6" d="M522.8 446.5V456.0"/><path stroke="#26a69a" stroke-width="0.95" d="M522.8 454.0V455.9"/><path stroke="#ef5350" stroke-width="0.6" d="M523.4 433.9V456.7"/><path stroke="#ef5350" stroke-width="0.95" d="M523.4 454.0V455.5"/><path stroke="#26a69a" stroke-width="0.6" d="M524.0 443.9V459.0M524.5 433.0V454.4"/><path stroke="#26a69a" stroke-width="0.95" d="M524.0 447.9V455.5M524.5 434.6V447.9"/><path stroke="#ef5350" stroke-width="0.6" d="M525.1 433.6V446.7M525.7 442.4V461.0"/><path stroke="#ef5350" stroke-width="0.95" d="M525.1 434.6V446.0M525.7 446.0V449.6"/><path stroke="#26a69a" stroke-width="0.6" d="M526.2 445.0V452.7M526.8 442.3V452.0M527.4 442.2V447.5"/><path stroke="#26a69a" stroke-width="0.95" d="M526.2 448.4V449.6M526.8 445.3V448.4M527.4 443.0V445.3"/><path stroke="#ef5350" stroke-width="0.6" d="M527.9 440.7V458.9"/><path stroke="#ef5350" stroke-width="0.95" d="M527.9 442.5V443.5"/><path stroke="#26a69a" stroke-width="0.6" d="M528.5 440.3V444.6"/><path stroke="#26a69a" stroke-width="0.95" d="M528.5 441.8V443.0"/><path stroke="#ef5350" stroke-width="0.6" d="M529.1 440.0V448.2"/><path stroke="#ef5350" stroke-width="0.95" d="M529.1 441.8V445.4"/><path stroke="#26a69a" stroke-width="0.6" d="M529.6 440.1V451.1M530.2 432.9V444.0"/><path stroke="#26a69a" stroke-width="0.95" d="M529.6 444.6V445.6M530.2 436.3V444.7"/><path stroke="#ef5350" stroke-width="0.6" d="M530.8 435.2V443.9"/><path stroke="#ef5350" stroke-width="0.95" d="M530.8 436.3V440.2"/><path stroke="#26a69a" stroke-width="0.6" d="M531.3 437.2V441.6M531.9 424.0V441.4"/><path stroke="#26a69a" stroke-width="0.95" d="M531.3 439.4V440.4M531.9 425.8V439.6"/><path stroke="#ef5350" stroke-width="0.6" d="M532.5 424.5V434.8"/><path stroke="#ef5350" stroke-width="0.95" d="M532.5 425.8V434.1"/><path stroke="#26a69a" stroke-width="0.6" d="M533.0 425.3V441.3"/><path stroke="#26a69a" stroke-width="0.95" d="M533.0 429.2V434.1"/><path stroke="#ef5350" stroke-width="0.6" d="M533.6 427.4V444.0"/><path stroke="#ef5350" stroke-width="0.95" d="M533.6 429.2V442.4"/><path stroke="#26a69a" stroke-width="0.6" d="M534.2 436.8V440.0M534.7 416.7V439.5M535.3 416.0V437.1M535.8 416.0V439.8"/><path stroke="#26a69a" stroke-width="0.95" d="M534.2 438.1V442.4M534.7 431.9V438.1M535.3 418.4V431.9M535.8 417.4V418.4"/><path stroke="#ef5350" stroke-width="0.6" d="M536.4 416.4V421.0M537.0 416.0V424.7"/><path stroke="#ef5350" stroke-width="0.95" d="M536.4 417.4V420.4M537.0 420.4V423.6"/><path stroke="#26a69a" stroke-width="0.6" d="M537.5 401.7V422.0M538.1 408.6V413.7M538.7 407.1V421.4"/><path stroke="#26a69a" stroke-width="0.95" d="M537.5 411.3V423.6M538.1 410.6V411.6M538.7 408.8V410.8"/><path stroke="#ef5350" stroke-width="0.6" d="M539.2 407.3V418.0"/><path stroke="#ef5350" stroke-width="0.95" d="M539.2 408.8V417.0"/><path stroke="#26a69a" stroke-width="0.6" d="M539.8 401.0V422.0"/><path stroke="#26a69a" stroke-width="0.95" d="M539.8 413.4V417.0"/><path stroke="#ef5350" stroke-width="0.6" d="M540.4 412.9V417.3M540.9 413.4V422.0"/><path stroke="#ef5350" stroke-width="0.95" d="M540.4 413.2V414.2M540.9 414.0V418.6"/><path stroke="#26a69a" stroke-width="0.6" d="M541.5 417.5V422.0"/><path stroke="#26a69a" stroke-width="0.95" d="M541.5 417.9V418.9"/><path stroke="#ef5350" stroke-width="0.6" d="M542.1 416.7V436.0"/><path stroke="#ef5350" stroke-width="0.95" d="M542.1 418.1V431.8"/><path stroke="#26a69a" stroke-width="0.6" d="M542.6 427.6V432.6"/><path stroke="#26a69a" stroke-width="0.95" d="M542.6 427.8V431.8"/><path stroke="#ef5350" stroke-width="0.6" d="M543.2 410.0V436.0M543.8 427.3V435.2"/><path stroke="#ef5350" stroke-width="0.95" d="M543.2 427.7V428.7M543.8 428.7V434.5"/><path stroke="#26a69a" stroke-width="0.6" d="M544.3 425.9V436.0"/><path stroke="#26a69a" stroke-width="0.95" d="M544.3 431.6V434.5"/><path stroke="#ef5350" stroke-width="0.6" d="M544.9 427.4V434.9"/><path stroke="#ef5350" stroke-width="0.95" d="M544.9 431.6V434.2"/><path stroke="#26a69a" stroke-width="0.6" d="M545.5 426.6V434.3"/><path stroke="#26a69a" stroke-width="0.95" d="M545.5 426.8V434.2"/><path stroke="#ef5350" stroke-width="0.6" d="M546.0 420.0V430.1M546.6 425.8V440.2"/><path stroke="#ef5350" stroke-width="0.95" d="M546.0 426.8V429.2M546.6 429.2V435.7"/><path stroke="#26a69a" stroke-width="0.6" d="M547.2 421.3V453.0"/><path stroke="#26a69a" stroke-width="0.95" d="M547.2 425.4V435.7"/><path stroke="#ef5350" stroke-width="0.6" d="M547.7 422.5V449.1"/><path stroke="#ef5350" stroke-width="0.95" d="M547.7 425.4V441.7"/><path stroke="#26a69a" stroke-width="0.6" d="M548.3 404.8V432.0M548.9 425.2V429.9M549.4 418.4V430.6M550.0 408.5V424.6"/><path stroke="#26a69a" stroke-width="0.95" d="M548.3 429.8V441.7M548.9 427.1V429.8M549.4 420.2V427.1M550.0 412.9V420.2"/><path stroke="#ef5350" stroke-width="0.6" d="M550.6 406.7V418.6"/><path stroke="#ef5350" stroke-width="0.95" d="M550.6 412.9V415.1"/><path stroke="#26a69a" stroke-width="0.6" d="M551.1 404.0V422.3M551.7 406.0V430.4M552.2 380.0V410.0"/><path stroke="#26a69a" stroke-width="0.95" d="M551.1 408.9V415.1M551.7 406.3V408.9M552.2 404.0V406.3"/><path stroke="#ef5350" stroke-width="0.6" d="M552.8 403.1V410.0"/><path stroke="#ef5350" stroke-width="0.95" d="M552.8 404.0V407.4"/><path stroke="#26a69a" stroke-width="0.6" d="M553.4 388.4V410.0"/><path stroke="#26a69a" stroke-width="0.95" d="M553.4 401.0V407.4"/><path stroke="#ef5350" stroke-width="0.6" d="M553.9 397.1V408.8"/><path stroke="#ef5350" stroke-width="0.95" d="M553.9 401.0V405.5"/><path stroke="#26a69a" stroke-width="0.6" d="M554.5 383.1V406.7M555.1 388.9V405.4M555.6 385.3V392.5"/><path stroke="#26a69a" stroke-width="0.95" d="M554.5 395.2V405.5M555.1 391.5V395.2M555.6 385.3V391.5"/><path stroke="#ef5350" stroke-width="0.6" d="M556.2 384.0V391.6M556.8 385.1V410.0"/><path stroke="#ef5350" stroke-width="0.95" d="M556.2 385.3V389.5M556.8 389.5V408.3"/><path stroke="#26a69a" stroke-width="0.6" d="M557.3 394.9V409.6M557.9 388.2V401.2M558.5 376.2V388.0"/><path stroke="#26a69a" stroke-width="0.95" d="M557.3 400.1V408.3M557.9 391.0V400.1M558.5 381.1V391.0"/><path stroke="#ef5350" stroke-width="0.6" d="M559.0 369.0V385.8"/><path stroke="#ef5350" stroke-width="0.95" d="M559.0 381.1V384.3"/><path stroke="#26a69a" stroke-width="0.6" d="M559.6 379.4V386.7"/><path stroke="#26a69a" stroke-width="0.95" d="M559.6 379.9V384.3"/><path stroke="#ef5350" stroke-width="0.6" d="M560.2 378.1V386.2"/><path stroke="#ef5350" stroke-width="0.95" d="M560.2 379.9V384.9"/><path stroke="#26a69a" stroke-width="0.6" d="M560.7 379.3V386.4"/><path stroke="#26a69a" stroke-width="0.95" d="M560.7 383.5V384.9"/><path stroke="#ef5350" stroke-width="0.6" d="M561.3 370.1V387.4"/><path stroke="#ef5350" stroke-width="0.95" d="M561.3 383.5V385.9"/><path stroke="#26a69a" stroke-width="0.6" d="M561.9 382.9V388.0M562.4 376.0V401.5"/><path stroke="#26a69a" stroke-width="0.95" d="M561.9 385.2V386.2M562.4 380.0V385.4"/><path stroke="#ef5350" stroke-width="0.6" d="M563.0 376.6V406.0"/><path stroke="#ef5350" stroke-width="0.95" d="M563.0 380.0V403.2"/><path stroke="#26a69a" stroke-width="0.6" d="M563.6 381.1V406.0"/><path stroke="#26a69a" stroke-width="0.95" d="M563.6 401.5V403.2"/><path stroke="#ef5350" stroke-width="0.6" d="M564.1 400.4V403.7"/><path stroke="#ef5350" stroke-width="0.95" d="M564.1 401.2V402.2"/><path stroke="#26a69a" stroke-width="0.6" d="M564.7 377.8V406.0M565.3 376.0V380.1"/><path stroke="#26a69a" stroke-width="0.95" d="M564.7 378.5V402.0M565.3 377.9V378.9"/><path stroke="#ef5350" stroke-width="0.6" d="M565.8 376.0V384.9M566.4 376.0V396.6M567.0 377.4V396.5"/><path stroke="#ef5350" stroke-width="0.95" d="M565.8 378.3V382.2M566.4 382.2V385.9M567.0 385.9V394.8"/><path stroke="#26a69a" stroke-width="0.6" d="M567.5 379.4V395.5M568.1 379.3V396.4"/><path stroke="#26a69a" stroke-width="0.95" d="M567.5 394.0V395.0M568.1 380.7V394.2"/><path stroke="#ef5350" stroke-width="0.6" d="M568.6 377.0V400.0"/><path stroke="#ef5350" stroke-width="0.95" d="M568.6 380.7V384.0"/><path stroke="#26a69a" stroke-width="0.6" d="M569.2 374.6V384.0M569.8 365.5V383.1M570.3 364.0V379.1"/><path stroke="#26a69a" stroke-width="0.95" d="M569.2 379.9V384.0M569.8 375.7V379.9M570.3 366.1V375.7"/><path stroke="#ef5350" stroke-width="0.6" d="M570.9 364.0V382.1"/><path stroke="#ef5350" stroke-width="0.95" d="M570.9 366.1V373.4"/><path stroke="#26a69a" stroke-width="0.6" d="M571.5 371.1V373.5"/><path stroke="#26a69a" stroke-width="0.95" d="M571.5 372.5V373.5"/><path stroke="#ef5350" stroke-width="0.6" d="M572.0 364.9V377.1"/><path stroke="#ef5350" stroke-width="0.95" d="M572.0 372.6V374.4"/><path stroke="#26a69a" stroke-width="0.6" d="M572.6 366.1V376.2"/><path stroke="#26a69a" stroke-width="0.95" d="M572.6 367.2V374.4"/><path stroke="#ef5350" stroke-width="0.6" d="M573.2 364.0V383.2"/><path stroke="#ef5350" stroke-width="0.95" d="M573.2 367.2V368.2"/><path stroke="#26a69a" stroke-width="0.6" d="M573.7 364.0V369.4M574.3 348.0V360.0M574.9 343.1V358.6"/><path stroke="#26a69a" stroke-width="0.95" d="M573.7 365.7V368.2M574.3 350.1V365.7M574.9 344.0V350.1"/><path stroke="#ef5350" stroke-width="0.6" d="M575.4 341.5V350.0"/><path stroke="#ef5350" stroke-width="0.95" d="M575.4 344.0V347.5"/><path stroke="#26a69a" stroke-width="0.6" d="M576.0 340.0V348.1M576.6 340.0V346.9M577.1 325.7V344.5"/><path stroke="#26a69a" stroke-width="0.95" d="M576.0 345.8V347.5M576.6 342.7V345.8M577.1 327.0V342.7"/><path stroke="#ef5350" stroke-width="0.6" d="M577.7 317.4V335.3"/><path stroke="#ef5350" stroke-width="0.95" d="M577.7 327.0V331.1"/><path stroke="#26a69a" stroke-width="0.6" d="M578.3 317.0V343.1"/><path stroke="#26a69a" stroke-width="0.95" d="M578.3 318.6V331.1"/><path stroke="#ef5350" stroke-width="0.6" d="M578.8 317.0V348.0M579.4 328.2V339.9M580.0 346.0V361.3M580.5 354.4V375.0"/><path stroke="#ef5350" stroke-width="0.95" d="M578.8 318.6V328.3M579.4 328.3V336.3M580.0 336.3V357.2M580.5 357.2V373.5"/><path stroke="#26a69a" stroke-width="0.6" d="M581.1 354.1V375.0"/><path stroke="#26a69a" stroke-width="0.95" d="M581.1 355.0V373.5"/><path stroke="#ef5350" stroke-width="0.6" d="M581.7 347.2V371.1M582.2 356.0V406.4"/><path stroke="#ef5350" stroke-width="0.95" d="M581.7 355.0V362.1M582.2 362.1V402.4"/><path stroke="#26a69a" stroke-width="0.6" d="M582.8 363.4V406.6"/><path stroke="#26a69a" stroke-width="0.95" d="M582.8 375.7V402.4"/><path stroke="#ef5350" stroke-width="0.6" d="M583.4 367.8V425.0"/><path stroke="#ef5350" stroke-width="0.95" d="M583.4 375.7V404.6"/><path stroke="#26a69a" stroke-width="0.6" d="M583.9 389.1V408.0"/><path stroke="#26a69a" stroke-width="0.95" d="M583.9 391.0V404.6"/><path stroke="#ef5350" stroke-width="0.6" d="M584.5 361.5V400.6M585.0 385.0V408.3"/><path stroke="#ef5350" stroke-width="0.95" d="M584.5 391.0V394.2M585.0 394.2V407.2"/><path stroke="#26a69a" stroke-width="0.6" d="M585.6 392.0V410.0M586.2 398.7V404.8"/><path stroke="#26a69a" stroke-width="0.95" d="M585.6 403.3V407.2M586.2 401.0V403.3"/><path stroke="#ef5350" stroke-width="0.6" d="M586.7 372.9V410.0"/><path stroke="#ef5350" stroke-width="0.95" d="M586.7 401.0V403.1"/><path stroke="#26a69a" stroke-width="0.6" d="M587.3 386.6V410.0M587.9 366.0V408.7"/><path stroke="#26a69a" stroke-width="0.95" d="M587.3 395.7V403.1M587.9 371.0V395.7"/><path stroke="#ef5350" stroke-width="0.6" d="M588.4 366.0V377.8"/><path stroke="#ef5350" stroke-width="0.95" d="M588.4 371.0V374.9"/><path stroke="#26a69a" stroke-width="0.6" d="M589.0 369.6V375.6"/><path stroke="#26a69a" stroke-width="0.95" d="M589.0 372.8V374.9"/><path stroke="#ef5350" stroke-width="0.6" d="M589.6 360.2V380.3M590.1 372.6V383.9M590.7 378.9V389.4"/><path stroke="#ef5350" stroke-width="0.95" d="M589.6 372.8V375.4M590.1 375.4V382.2M590.7 382.2V388.2"/><path stroke="#26a69a" stroke-width="0.6" d="M591.3 368.9V392.0"/><path stroke="#26a69a" stroke-width="0.95" d="M591.3 374.0V388.2"/><path stroke="#ef5350" stroke-width="0.6" d="M591.8 357.0V378.7"/><path stroke="#ef5350" stroke-width="0.95" d="M591.8 374.0V375.5"/><path stroke="#26a69a" stroke-width="0.6" d="M592.4 373.3V378.8M593.0 365.3V378.2M593.5 353.6V372.5M594.1 343.7V361.8"/><path stroke="#26a69a" stroke-width="0.95" d="M592.4 374.2V375.5M593.0 366.7V374.2M593.5 360.6V366.7M594.1 348.6V360.6"/><path stroke="#ef5350" stroke-width="0.6" d="M594.7 342.9V358.6M595.2 348.6V380.0"/><path stroke="#ef5350" stroke-width="0.95" d="M594.7 348.6V350.4M595.2 350.4V366.2"/><path stroke="#26a69a" stroke-width="0.6" d="M595.8 355.5V374.8M596.4 342.0V363.1M596.9 311.2V353.1M597.5 245.0V362.0M598.1 228.0V258.0M598.6 196.0V240.0M599.2 66.0V206.0"/><path stroke="#26a69a" stroke-width="0.95" d="M595.8 355.8V366.2M596.4 345.1V355.8M596.9 311.4V345.1M597.5 252.0V358.0M598.1 234.0V252.0M598.6 202.0V234.0M599.2 72.0V202.0"/><path stroke="#ef5350" stroke-width="0.6" d="M599.7 106.0V205.0"/><path stroke="#ef5350" stroke-width="0.95" d="M599.7 107.0V188.0"/><path stroke="#26a69a" stroke-width="0.6" d="M600.3 142.0V198.0"/><path stroke="#26a69a" stroke-width="0.95" d="M600.3 150.0V188.0"/><path stroke="#ef5350" stroke-width="0.6" d="M600.9 142.0V196.0"/><path stroke="#ef5350" stroke-width="0.95" d="M600.9 150.0V168.0"/><path stroke="#26a69a" stroke-width="0.6" d="M601.4 149.0V191.0"/><path stroke="#26a69a" stroke-width="0.95" d="M601.4 152.0V168.0"/><path stroke="#ef5350" stroke-width="0.6" d="M602.0 149.0V191.0M602.6 182.0V232.0M603.1 196.0V256.0M603.7 240.0V282.0M604.3 250.0V305.0M604.8 232.6V305.0M605.4 293.2V305.0"/><path stroke="#ef5350" stroke-width="0.95" d="M602.0 152.0V184.0M602.6 184.0V204.0M603.1 204.0V246.0M603.7 246.0V268.0M604.3 268.0V290.0M604.8 266.3V293.5M605.4 293.3V294.3"/><path stroke="#26a69a" stroke-width="0.6" d="M606.0 240.0V294.9M606.5 259.0V302.0"/><path stroke="#26a69a" stroke-width="0.95" d="M606.0 291.2V294.1M606.5 261.4V291.2"/><path stroke="#ef5350" stroke-width="0.6" d="M607.1 259.0V291.9"/><path stroke="#ef5350" stroke-width="0.95" d="M607.1 261.4V289.4"/><path stroke="#26a69a" stroke-width="0.6" d="M607.7 269.5V291.8M608.2 261.9V270.5"/><path stroke="#26a69a" stroke-width="0.95" d="M607.7 269.8V289.4M608.2 269.0V270.0"/><path stroke="#ef5350" stroke-width="0.6" d="M608.8 289.0V337.1M609.4 334.4V420.0M609.9 393.8V446.0M610.5 440.8V498.0"/><path stroke="#ef5350" stroke-width="0.95" d="M608.8 269.1V336.7M609.4 336.7V404.3M609.9 404.3V444.7M610.5 444.7V485.0"/><path stroke="#26a69a" stroke-width="0.6" d="M611.1 473.4V489.8"/><path stroke="#26a69a" stroke-width="0.95" d="M611.1 476.4V485.0"/><path stroke="#ef5350" stroke-width="0.6" d="M611.6 476.2V500.5M612.2 490.9V502.0"/><path stroke="#ef5350" stroke-width="0.95" d="M611.6 476.4V497.3M612.2 497.3V499.9"/><path stroke="#26a69a" stroke-width="0.6" d="M612.8 460.0V502.0"/><path stroke="#26a69a" stroke-width="0.95" d="M612.8 462.1V499.9"/><path stroke="#ef5350" stroke-width="0.6" d="M613.3 460.0V475.5"/><path stroke="#ef5350" stroke-width="0.95" d="M613.3 462.1V472.6"/><path stroke="#26a69a" stroke-width="0.6" d="M613.9 460.0V499.9M614.5 439.5V467.0M615.0 380.0V469.7"/><path stroke="#26a69a" stroke-width="0.95" d="M613.9 463.9V472.6M614.5 457.7V463.9M615.0 437.0V457.7"/><path stroke="#ef5350" stroke-width="0.6" d="M615.6 435.5V474.0"/><path stroke="#ef5350" stroke-width="0.95" d="M615.6 437.0V461.1"/><path stroke="#26a69a" stroke-width="0.6" d="M616.1 405.8V454.0"/><path stroke="#26a69a" stroke-width="0.95" d="M616.1 445.5V461.1"/><path stroke="#ef5350" stroke-width="0.6" d="M616.7 430.5V454.0"/><path stroke="#ef5350" stroke-width="0.95" d="M616.7 445.5V450.3"/><path stroke="#26a69a" stroke-width="0.6" d="M617.3 418.1V452.2"/><path stroke="#26a69a" stroke-width="0.95" d="M617.3 424.3V450.3"/><path stroke="#ef5350" stroke-width="0.6" d="M617.8 417.7V431.6"/><path stroke="#ef5350" stroke-width="0.95" d="M617.8 424.0V425.0"/><path stroke="#26a69a" stroke-width="0.6" d="M618.4 403.8V431.1M619.0 402.0V431.3"/><path stroke="#26a69a" stroke-width="0.95" d="M618.4 422.7V424.7M619.0 413.1V422.7"/><path stroke="#ef5350" stroke-width="0.6" d="M619.5 405.7V449.2M620.1 414.0V492.6"/><path stroke="#ef5350" stroke-width="0.95" d="M619.5 413.1V445.3M620.1 445.3V491.3"/><path stroke="#26a69a" stroke-width="0.6" d="M620.7 468.7V494.5M621.2 467.8V494.0M621.8 470.9V496.0M622.4 462.8V482.8"/><path stroke="#26a69a" stroke-width="0.95" d="M620.7 486.9V491.3M621.2 485.6V486.9M621.8 474.4V485.6M622.4 467.0V474.4"/><path stroke="#ef5350" stroke-width="0.6" d="M622.9 465.6V491.3M623.5 479.2V494.0"/><path stroke="#ef5350" stroke-width="0.95" d="M622.9 467.0V480.6M623.5 480.6V484.9"/><path stroke="#26a69a" stroke-width="0.6" d="M624.1 479.7V488.8"/><path stroke="#26a69a" stroke-width="0.95" d="M624.1 484.3V485.3"/><path stroke="#ef5350" stroke-width="0.6" d="M624.6 458.0V486.9M625.2 498.0V535.6"/><path stroke="#ef5350" stroke-width="0.95" d="M624.6 484.7V486.6M625.2 486.6V534.6"/><path stroke="#26a69a" stroke-width="0.6" d="M625.8 499.9V540.2"/><path stroke="#26a69a" stroke-width="0.95" d="M625.8 510.9V534.6"/><path stroke="#ef5350" stroke-width="0.6" d="M626.3 505.0V533.3M626.9 520.5V546.7M627.5 525.2V549.0"/><path stroke="#ef5350" stroke-width="0.95" d="M626.3 510.9V527.3M626.9 526.8V527.8M627.5 527.4V546.0"/><path stroke="#26a69a" stroke-width="0.6" d="M628.0 509.6V530.0M628.6 493.5V529.0M629.2 510.2V518.3"/><path stroke="#26a69a" stroke-width="0.95" d="M628.0 522.6V546.0M628.6 512.4V522.6M629.2 510.9V512.4"/><path stroke="#ef5350" stroke-width="0.6" d="M629.7 500.2V525.4"/><path stroke="#ef5350" stroke-width="0.95" d="M629.7 510.9V522.8"/><path stroke="#26a69a" stroke-width="0.6" d="M630.3 520.9V530.0M630.9 491.5V527.7M631.4 491.7V519.0"/><path stroke="#26a69a" stroke-width="0.95" d="M630.3 522.2V523.2M630.9 518.6V522.6M631.4 493.4V518.6"/><path stroke="#ef5350" stroke-width="0.6" d="M632.0 490.0V530.0"/><path stroke="#ef5350" stroke-width="0.95" d="M632.0 493.4V527.3"/><path stroke="#26a69a" stroke-width="0.6" d="M632.5 523.4V528.0M633.1 504.8V528.0"/><path stroke="#26a69a" stroke-width="0.95" d="M632.5 526.4V527.4M633.1 522.9V526.6"/><path stroke="#ef5350" stroke-width="0.6" d="M633.7 517.9V526.4"/><path stroke="#ef5350" stroke-width="0.95" d="M633.7 522.9V525.0"/><path stroke="#26a69a" stroke-width="0.6" d="M634.2 506.5V527.4"/><path stroke="#26a69a" stroke-width="0.95" d="M634.2 511.1V525.0"/><path stroke="#ef5350" stroke-width="0.6" d="M634.8 510.9V513.4"/><path stroke="#ef5350" stroke-width="0.95" d="M634.8 511.1V512.1"/><path stroke="#26a69a" stroke-width="0.6" d="M635.4 502.0V515.0"/><path stroke="#26a69a" stroke-width="0.95" d="M635.4 504.3V512.1"/><path stroke="#ef5350" stroke-width="0.6" d="M635.9 504.0V512.5"/><path stroke="#ef5350" stroke-width="0.95" d="M635.9 504.3V506.9"/><path stroke="#26a69a" stroke-width="0.6" d="M636.5 502.0V508.4"/><path stroke="#26a69a" stroke-width="0.95" d="M636.5 504.4V506.9"/><path stroke="#ef5350" stroke-width="0.6" d="M637.1 502.0V518.0"/><path stroke="#ef5350" stroke-width="0.95" d="M637.1 504.4V508.0"/><path stroke="#26a69a" stroke-width="0.6" d="M637.6 505.2V508.2M638.2 502.1V512.1M638.8 505.2V507.9M639.3 483.1V490.0M639.9 470.0V490.0M640.5 476.0V483.1M641.0 479.1V490.0"/><path stroke="#26a69a" stroke-width="0.95" d="M637.6 506.9V508.0M638.2 505.6V506.9M638.8 504.9V505.9M639.3 486.8V505.3M639.9 481.7V486.8M640.5 480.8V481.8M641.0 479.9V480.9"/><path stroke="#ef5350" stroke-width="0.6" d="M641.6 478.0V483.1"/><path stroke="#ef5350" stroke-width="0.95" d="M641.6 480.0V481.3"/><path stroke="#26a69a" stroke-width="0.6" d="M642.2 429.4V466.0M642.7 433.7V466.0"/><path stroke="#26a69a" stroke-width="0.95" d="M642.2 460.5V481.3M642.7 439.9V460.5"/><path stroke="#ef5350" stroke-width="0.6" d="M643.3 437.5V460.4M643.9 440.9V455.3M644.4 424.0V466.0"/><path stroke="#ef5350" stroke-width="0.95" d="M643.3 439.9V442.5M643.9 442.5V449.2M644.4 449.2V459.7"/><path stroke="#26a69a" stroke-width="0.6" d="M645.0 444.4V466.0"/><path stroke="#26a69a" stroke-width="0.95" d="M645.0 447.0V459.7"/><path stroke="#ef5350" stroke-width="0.6" d="M645.6 445.8V470.0M646.1 461.9V469.9"/><path stroke="#ef5350" stroke-width="0.95" d="M645.6 447.0V463.5M646.1 463.5V465.2"/><path stroke="#26a69a" stroke-width="0.6" d="M646.7 443.8V468.7M647.3 415.0V467.8M647.8 426.8V457.6M648.4 418.4V443.6M648.9 420.9V434.4"/><path stroke="#26a69a" stroke-width="0.95" d="M646.7 460.8V465.2M647.3 451.0V460.8M647.8 436.1V451.0M648.4 427.1V436.1M648.9 426.1V427.1"/><path stroke="#ef5350" stroke-width="0.6" d="M649.5 418.0V466.8M650.1 426.8V463.2"/><path stroke="#ef5350" stroke-width="0.95" d="M649.5 426.2V433.0M650.1 433.0V458.4"/><path stroke="#26a69a" stroke-width="0.6" d="M650.6 426.2V468.0"/><path stroke="#26a69a" stroke-width="0.95" d="M650.6 435.6V458.4"/><path stroke="#ef5350" stroke-width="0.6" d="M651.2 433.0V455.3"/><path stroke="#ef5350" stroke-width="0.95" d="M651.2 435.5V436.5"/><path stroke="#26a69a" stroke-width="0.6" d="M651.8 422.6V440.9"/><path stroke="#26a69a" stroke-width="0.95" d="M651.8 422.8V436.5"/><path stroke="#ef5350" stroke-width="0.6" d="M652.3 403.0V442.3M652.9 431.8V439.5M653.5 431.4V458.0"/><path stroke="#ef5350" stroke-width="0.95" d="M652.3 422.8V434.4M652.9 434.3V435.3M653.5 435.3V454.0"/><path stroke="#26a69a" stroke-width="0.6" d="M654.0 441.9V448.0M654.6 426.5V448.0"/><path stroke="#26a69a" stroke-width="0.95" d="M654.0 446.0V454.0M654.6 434.9V446.0"/><path stroke="#ef5350" stroke-width="0.6" d="M655.2 433.0V448.0M655.7 410.0V448.0"/><path stroke="#ef5350" stroke-width="0.95" d="M655.2 434.9V440.9M655.7 440.9V444.0"/><path stroke="#26a69a" stroke-width="0.6" d="M656.3 437.5V448.0M656.9 419.8V443.9"/><path stroke="#26a69a" stroke-width="0.95" d="M656.3 440.6V444.0M656.9 425.0V440.6"/><path stroke="#ef5350" stroke-width="0.6" d="M657.4 416.9V433.3"/><path stroke="#ef5350" stroke-width="0.95" d="M657.4 425.0V431.7"/><path stroke="#26a69a" stroke-width="0.6" d="M658.0 418.0V434.4"/><path stroke="#26a69a" stroke-width="0.95" d="M658.0 419.7V431.7"/><path stroke="#ef5350" stroke-width="0.6" d="M658.6 418.0V449.0M659.1 424.3V436.7"/><path stroke="#ef5350" stroke-width="0.95" d="M658.6 419.7V424.6M659.1 424.6V433.7"/><path stroke="#26a69a" stroke-width="0.6" d="M659.7 421.3V438.2M660.3 418.0V431.0"/><path stroke="#26a69a" stroke-width="0.95" d="M659.7 430.8V433.7M660.3 422.2V430.8"/><path stroke="#ef5350" stroke-width="0.6" d="M660.8 422.2V445.1M661.4 426.5V444.7"/><path stroke="#ef5350" stroke-width="0.95" d="M660.8 422.2V427.7M661.4 427.7V443.8"/><path stroke="#26a69a" stroke-width="0.6" d="M662.0 419.7V445.2M662.5 363.5V410.0M663.1 400.5V410.0M663.7 365.0V405.6M664.2 358.8V371.0"/><path stroke="#26a69a" stroke-width="0.95" d="M662.0 433.0V443.8M662.5 407.2V433.0M663.1 403.0V407.2M663.7 365.9V403.0M664.2 359.5V365.9"/><path stroke="#ef5350" stroke-width="0.6" d="M664.8 355.0V393.5M665.3 370.3V399.3"/><path stroke="#ef5350" stroke-width="0.95" d="M664.8 359.5V382.8M665.3 382.8V394.8"/><path stroke="#26a69a" stroke-width="0.6" d="M665.9 377.7V388.0M666.5 367.0V383.5M667.0 333.8V369.0M667.6 323.1V351.4M668.2 315.3V335.5"/><path stroke="#26a69a" stroke-width="0.95" d="M665.9 380.7V394.8M666.5 368.3V380.7M667.0 343.8V368.3M667.6 335.3V343.8M668.2 325.7V335.3"/><path stroke="#ef5350" stroke-width="0.6" d="M668.7 314.0V337.0M669.3 333.0V359.5"/><path stroke="#ef5350" stroke-width="0.95" d="M668.7 325.7V335.2M669.3 335.2V350.1"/><path stroke="#26a69a" stroke-width="0.6" d="M669.9 343.3V352.7M670.4 303.8V363.7"/><path stroke="#26a69a" stroke-width="0.95" d="M669.9 349.4V350.4M670.4 318.6V349.7"/><path stroke="#ef5350" stroke-width="0.6" d="M671.0 297.9V376.0"/><path stroke="#ef5350" stroke-width="0.95" d="M671.0 318.6V368.8"/><path stroke="#26a69a" stroke-width="0.6" d="M671.6 350.6V369.0"/><path stroke="#26a69a" stroke-width="0.95" d="M671.6 351.5V368.8"/><path stroke="#ef5350" stroke-width="0.6" d="M672.1 348.8V375.9M672.7 344.3V361.3M673.3 294.0V375.6"/><path stroke="#ef5350" stroke-width="0.95" d="M672.1 351.5V353.0M672.7 353.0V358.3M673.3 358.3V367.8"/><path stroke="#26a69a" stroke-width="0.6" d="M673.8 345.5V370.2"/><path stroke="#26a69a" stroke-width="0.95" d="M673.8 352.7V367.8"/><path stroke="#ef5350" stroke-width="0.6" d="M674.4 347.6V401.7"/><path stroke="#ef5350" stroke-width="0.95" d="M674.4 352.7V390.1"/><path stroke="#26a69a" stroke-width="0.6" d="M675.0 356.7V400.3"/><path stroke="#26a69a" stroke-width="0.95" d="M675.0 361.0V390.1"/><path stroke="#ef5350" stroke-width="0.6" d="M675.5 337.0V398.2"/><path stroke="#ef5350" stroke-width="0.95" d="M675.5 361.0V387.2"/><path stroke="#26a69a" stroke-width="0.6" d="M676.1 379.3V390.3"/><path stroke="#26a69a" stroke-width="0.95" d="M676.1 381.0V387.2"/><path stroke="#ef5350" stroke-width="0.6" d="M676.7 373.5V406.9"/><path stroke="#ef5350" stroke-width="0.95" d="M676.7 381.0V404.2"/><path stroke="#26a69a" stroke-width="0.6" d="M677.2 386.5V409.0"/><path stroke="#26a69a" stroke-width="0.95" d="M677.2 389.6V404.2"/><path stroke="#ef5350" stroke-width="0.6" d="M677.8 386.0V438.3M678.4 392.8V425.9M678.9 392.7V439.0"/><path stroke="#ef5350" stroke-width="0.95" d="M677.8 389.6V396.1M678.4 396.1V425.6M678.9 425.6V435.2"/><path stroke="#26a69a" stroke-width="0.6" d="M679.5 428.1V439.0M680.1 419.2V434.5M680.6 409.5V422.8"/><path stroke="#26a69a" stroke-width="0.95" d="M679.5 431.2V435.2M680.1 419.5V431.2M680.6 411.5V419.5"/><path stroke="#ef5350" stroke-width="0.6" d="M681.2 411.2V451.0"/><path stroke="#ef5350" stroke-width="0.95" d="M681.2 411.5V442.4"/><path stroke="#26a69a" stroke-width="0.6" d="M681.7 411.0V453.0"/><path stroke="#26a69a" stroke-width="0.95" d="M681.7 414.9V442.4"/><path stroke="#ef5350" stroke-width="0.6" d="M682.3 414.2V421.2M682.9 411.0V421.5"/><path stroke="#ef5350" stroke-width="0.95" d="M682.3 414.9V419.5M682.9 419.0V420.0"/><path stroke="#26a69a" stroke-width="0.6" d="M683.4 411.0V424.9"/><path stroke="#26a69a" stroke-width="0.95" d="M683.4 414.4V419.5"/><path stroke="#ef5350" stroke-width="0.6" d="M684.0 411.0V459.0"/><path stroke="#ef5350" stroke-width="0.95" d="M684.0 414.4V432.8"/><path stroke="#26a69a" stroke-width="0.6" d="M684.6 415.2V421.0"/><path stroke="#26a69a" stroke-width="0.95" d="M684.6 416.9V432.8"/><path stroke="#ef5350" stroke-width="0.6" d="M685.1 410.5V421.0"/><path stroke="#ef5350" stroke-width="0.95" d="M685.1 416.5V417.5"/><path stroke="#26a69a" stroke-width="0.6" d="M685.7 395.3V421.0M686.3 357.0V403.8M686.8 375.9V400.0"/><path stroke="#26a69a" stroke-width="0.95" d="M685.7 398.1V417.1M686.3 391.5V398.1M686.8 382.9V391.5"/><path stroke="#ef5350" stroke-width="0.6" d="M687.4 379.2V411.4"/><path stroke="#ef5350" stroke-width="0.95" d="M687.4 382.9V391.3"/><path stroke="#26a69a" stroke-width="0.6" d="M688.0 340.4V386.0M688.5 341.9V357.8"/><path stroke="#26a69a" stroke-width="0.95" d="M688.0 350.4V391.3M688.5 343.6V350.4"/><path stroke="#ef5350" stroke-width="0.6" d="M689.1 329.0V358.8M689.7 352.9V375.9M690.2 374.0V426.9"/><path stroke="#ef5350" stroke-width="0.95" d="M689.1 343.6V354.5M689.7 354.5V372.3M690.2 372.3V393.9"/><path stroke="#26a69a" stroke-width="0.6" d="M690.8 375.8V405.5"/><path stroke="#26a69a" stroke-width="0.95" d="M690.8 380.4V393.9"/><path stroke="#ef5350" stroke-width="0.6" d="M691.4 374.6V399.8M691.9 390.0V402.1"/><path stroke="#ef5350" stroke-width="0.95" d="M691.4 380.4V394.8M691.9 394.8V396.9"/><path stroke="#26a69a" stroke-width="0.6" d="M692.5 386.7V437.0"/><path stroke="#26a69a" stroke-width="0.95" d="M692.5 394.1V396.9"/><path stroke="#ef5350" stroke-width="0.6" d="M693.1 387.7V410.0M693.6 398.3V413.3"/><path stroke="#ef5350" stroke-width="0.95" d="M693.1 394.1V404.5M693.6 404.5V408.1"/><path stroke="#26a69a" stroke-width="0.6" d="M694.2 396.1V409.6M694.8 379.0V407.8"/><path stroke="#26a69a" stroke-width="0.95" d="M694.2 406.8V408.1M694.8 402.1V406.8"/><path stroke="#ef5350" stroke-width="0.6" d="M695.3 400.8V411.8"/><path stroke="#ef5350" stroke-width="0.95" d="M695.3 402.1V407.2"/><path stroke="#26a69a" stroke-width="0.6" d="M695.9 398.8V416.0"/><path stroke="#26a69a" stroke-width="0.95" d="M695.9 402.3V407.2"/><path stroke="#ef5350" stroke-width="0.6" d="M696.5 389.6V421.3"/><path stroke="#ef5350" stroke-width="0.95" d="M696.5 402.3V415.1"/><path stroke="#26a69a" stroke-width="0.6" d="M697.0 412.0V428.7M697.6 370.0V432.0"/><path stroke="#26a69a" stroke-width="0.95" d="M697.0 412.5V415.1M697.6 374.9V412.5"/><path stroke="#ef5350" stroke-width="0.6" d="M698.1 373.6V388.2M698.7 377.5V426.3M699.3 420.1V430.2"/><path stroke="#ef5350" stroke-width="0.95" d="M698.1 374.9V384.8M698.7 384.8V420.4M699.3 420.4V423.4"/><path stroke="#26a69a" stroke-width="0.6" d="M699.8 413.2V425.7M700.4 389.3V434.0M701.0 382.3V399.3"/><path stroke="#26a69a" stroke-width="0.95" d="M699.8 415.9V423.4M700.4 397.9V415.9M701.0 384.8V397.9"/><path stroke="#ef5350" stroke-width="0.6" d="M701.5 380.0V425.3"/><path stroke="#ef5350" stroke-width="0.95" d="M701.5 384.8V406.2"/><path stroke="#26a69a" stroke-width="0.6" d="M702.1 380.0V409.7"/><path stroke="#26a69a" stroke-width="0.95" d="M702.1 387.1V406.2"/><path stroke="#ef5350" stroke-width="0.6" d="M702.7 380.0V391.4"/><path stroke="#ef5350" stroke-width="0.95" d="M702.7 387.1V389.6"/><path stroke="#26a69a" stroke-width="0.6" d="M703.2 377.5V397.7M703.8 363.5V390.8"/><path stroke="#26a69a" stroke-width="0.95" d="M703.2 386.1V389.6M703.8 368.9V386.1"/><path stroke="#ef5350" stroke-width="0.6" d="M704.4 361.9V380.8M704.9 368.0V412.1M705.5 374.7V419.0"/><path stroke="#ef5350" stroke-width="0.95" d="M704.4 368.9V375.9M704.9 375.9V380.4M705.5 380.4V407.7"/><path stroke="#26a69a" stroke-width="0.6" d="M706.1 360.0V421.0M706.6 355.0V373.3"/><path stroke="#26a69a" stroke-width="0.95" d="M706.1 370.2V407.7M706.6 359.1V370.2"/><path stroke="#ef5350" stroke-width="0.6" d="M707.2 355.0V371.4"/><path stroke="#ef5350" stroke-width="0.95" d="M707.2 359.1V366.7"/><path stroke="#26a69a" stroke-width="0.6" d="M707.8 357.6V366.8"/><path stroke="#26a69a" stroke-width="0.95" d="M707.8 359.3V366.7"/><path stroke="#ef5350" stroke-width="0.6" d="M708.3 358.4V407.0M708.9 378.8V399.6"/><path stroke="#ef5350" stroke-width="0.95" d="M708.3 359.3V387.9M708.9 387.9V398.1"/><path stroke="#26a69a" stroke-width="0.6" d="M709.5 355.7V401.3M710.0 366.3V397.6M710.6 348.7V387.4M711.2 352.1V353.4"/><path stroke="#26a69a" stroke-width="0.95" d="M709.5 389.2V398.1M710.0 368.6V389.2M710.6 352.8V368.6M711.2 352.2V353.2"/><path stroke="#ef5350" stroke-width="0.6" d="M711.7 348.0V385.1M712.3 365.8V386.6"/><path stroke="#ef5350" stroke-width="0.95" d="M711.7 352.7V366.2M712.3 366.2V370.6"/><path stroke="#26a69a" stroke-width="0.6" d="M712.8 346.0V390.0"/><path stroke="#26a69a" stroke-width="0.95" d="M712.8 349.8V370.6"/><path stroke="#ef5350" stroke-width="0.6" d="M713.4 349.0V358.7M714.0 333.8V366.9"/><path stroke="#ef5350" stroke-width="0.95" d="M713.4 349.8V352.2M714.0 352.2V364.4"/><path stroke="#26a69a" stroke-width="0.6" d="M714.5 346.4V374.0"/><path stroke="#26a69a" stroke-width="0.95" d="M714.5 352.5V364.4"/><path stroke="#ef5350" stroke-width="0.6" d="M715.1 348.5V373.8M715.7 359.0V374.0"/><path stroke="#ef5350" stroke-width="0.95" d="M715.1 352.5V366.5M715.7 366.2V367.2"/><path stroke="#26a69a" stroke-width="0.6" d="M716.2 327.0V374.0M716.8 348.6V369.7"/><path stroke="#26a69a" stroke-width="0.95" d="M716.2 363.6V366.9M716.8 351.4V363.6"/><path stroke="#ef5350" stroke-width="0.6" d="M717.4 345.7V372.6M717.9 340.0V400.8M718.5 370.1V399.9M719.1 342.6V401.8"/><path stroke="#ef5350" stroke-width="0.95" d="M717.4 351.4V357.9M717.9 357.9V376.8M718.5 376.8V388.8M719.1 388.8V397.6"/><path stroke="#26a69a" stroke-width="0.6" d="M719.6 381.1V407.0M720.2 371.6V401.8M720.8 356.7V385.2M721.3 364.8V403.5"/><path stroke="#26a69a" stroke-width="0.95" d="M719.6 386.0V397.6M720.2 382.1V386.0M720.8 372.5V382.1M721.3 366.0V372.5"/><path stroke="#ef5350" stroke-width="0.6" d="M721.9 358.0V392.9M722.5 363.0V403.6M723.0 394.6V404.0"/><path stroke="#ef5350" stroke-width="0.95" d="M721.9 366.0V392.5M722.5 392.5V397.5M723.0 397.5V399.8"/><path stroke="#26a69a" stroke-width="0.6" d="M723.6 373.5V404.0"/><path stroke="#26a69a" stroke-width="0.95" d="M723.6 385.4V399.8"/><path stroke="#ef5350" stroke-width="0.6" d="M724.2 382.3V427.7M724.7 421.4V473.0"/><path stroke="#ef5350" stroke-width="0.95" d="M724.2 385.4V423.0M724.7 423.0V460.5"/><path stroke="#26a69a" stroke-width="0.6" d="M725.3 433.7V450.0M725.9 434.9V444.6M726.4 419.1V443.9M727.0 418.4V435.1"/><path stroke="#26a69a" stroke-width="0.95" d="M725.3 438.0V460.5M725.9 437.2V438.2M726.4 433.5V437.4M727.0 420.1V433.5"/><path stroke="#ef5350" stroke-width="0.6" d="M727.6 415.4V445.3"/><path stroke="#ef5350" stroke-width="0.95" d="M727.6 420.1V423.7"/><path stroke="#26a69a" stroke-width="0.6" d="M728.1 414.1V424.5"/><path stroke="#26a69a" stroke-width="0.95" d="M728.1 422.1V423.7"/><path stroke="#ef5350" stroke-width="0.6" d="M728.7 414.0V434.2"/><path stroke="#ef5350" stroke-width="0.95" d="M728.7 422.1V433.0"/><path stroke="#26a69a" stroke-width="0.6" d="M729.2 406.5V436.0"/><path stroke="#26a69a" stroke-width="0.95" d="M729.2 414.0V433.0"/><path stroke="#ef5350" stroke-width="0.6" d="M729.8 343.0V436.0"/><path stroke="#ef5350" stroke-width="0.95" d="M729.8 414.0V429.4"/><path stroke="#26a69a" stroke-width="0.6" d="M730.4 408.6V436.0M730.9 381.2V400.0M731.5 345.0V398.3M732.1 382.3V400.0M732.6 369.3V400.0"/><path stroke="#26a69a" stroke-width="0.95" d="M730.4 414.8V429.4M730.9 392.9V414.8M731.5 390.6V392.9M732.1 389.9V390.9M732.6 382.5V390.1"/><path stroke="#ef5350" stroke-width="0.6" d="M733.2 377.6V400.0"/><path stroke="#ef5350" stroke-width="0.95" d="M733.2 382.5V394.9"/><path stroke="#26a69a" stroke-width="0.6" d="M733.8 352.6V399.6M734.3 374.2V386.9"/><path stroke="#26a69a" stroke-width="0.95" d="M733.8 383.4V394.9M734.3 381.2V383.4"/><path stroke="#ef5350" stroke-width="0.6" d="M734.9 370.0V397.0"/><path stroke="#ef5350" stroke-width="0.95" d="M734.9 381.2V392.8"/><path stroke="#26a69a" stroke-width="0.6" d="M735.5 386.2V406.8"/><path stroke="#26a69a" stroke-width="0.95" d="M735.5 387.1V392.8"/><path stroke="#ef5350" stroke-width="0.6" d="M736.0 375.4V427.0"/><path stroke="#ef5350" stroke-width="0.95" d="M736.0 387.1V420.7"/><path stroke="#26a69a" stroke-width="0.6" d="M736.6 385.0V425.0"/><path stroke="#26a69a" stroke-width="0.95" d="M736.6 390.6V420.7"/><path stroke="#ef5350" stroke-width="0.6" d="M737.2 361.8V397.0"/><path stroke="#ef5350" stroke-width="0.95" d="M737.2 390.6V393.4"/><path stroke="#26a69a" stroke-width="0.6" d="M737.7 374.6V397.0M738.3 376.8V391.2M738.9 367.1V394.4M739.4 356.5V374.5"/><path stroke="#26a69a" stroke-width="0.95" d="M737.7 379.7V393.4M738.3 378.2V379.7M738.9 372.9V378.2M739.4 360.2V372.9"/><path stroke="#ef5350" stroke-width="0.6" d="M740.0 355.0V378.8"/><path stroke="#ef5350" stroke-width="0.95" d="M740.0 360.2V370.4"/><path stroke="#26a69a" stroke-width="0.6" d="M740.6 367.1V390.6"/><path stroke="#26a69a" stroke-width="0.95" d="M740.6 367.1V370.4"/><path stroke="#ef5350" stroke-width="0.6" d="M741.1 366.0V382.6"/><path stroke="#ef5350" stroke-width="0.95" d="M741.1 367.1V378.0"/><path stroke="#26a69a" stroke-width="0.6" d="M741.7 352.9V358.0M742.3 352.1V358.0"/><path stroke="#26a69a" stroke-width="0.95" d="M741.7 356.0V378.0M742.3 354.6V356.0"/><path stroke="#ef5350" stroke-width="0.6" d="M742.8 352.7V358.0"/><path stroke="#ef5350" stroke-width="0.95" d="M742.8 354.6V356.4"/><path stroke="#26a69a" stroke-width="0.6" d="M743.4 329.0V358.0M744.0 338.5V349.7M744.5 329.4V349.0"/><path stroke="#26a69a" stroke-width="0.95" d="M743.4 342.8V356.4M744.0 341.8V342.8M744.5 329.6V341.8"/><path stroke="#ef5350" stroke-width="0.6" d="M745.1 325.0V353.7M745.6 329.1V352.9"/><path stroke="#ef5350" stroke-width="0.95" d="M745.1 329.6V333.8M745.6 333.8V345.1"/><path stroke="#26a69a" stroke-width="0.6" d="M746.2 325.0V350.9"/><path stroke="#26a69a" stroke-width="0.95" d="M746.2 328.8V345.1"/><path stroke="#ef5350" stroke-width="0.6" d="M746.8 325.0V344.7"/><path stroke="#ef5350" stroke-width="0.95" d="M746.8 328.8V335.8"/><path stroke="#26a69a" stroke-width="0.6" d="M747.3 326.3V358.0M747.9 325.2V338.2M748.5 325.0V343.0M749.0 294.0V343.0M749.6 262.0V305.0"/><path stroke="#26a69a" stroke-width="0.95" d="M747.3 333.7V335.8M747.9 329.4V333.7M748.5 330.0V336.0M749.0 300.0V330.0M749.6 268.0V300.0"/><path stroke="#ef5350" stroke-width="0.6" d="M750.2 225.0V285.0M750.7 214.0V274.0"/><path stroke="#ef5350" stroke-width="0.95" d="M750.2 242.0V272.0M750.7 241.0V262.0"/><path stroke="#26a69a" stroke-width="0.6" d="M751.3 233.0V284.0"/><path stroke="#26a69a" stroke-width="0.95" d="M751.3 234.0V262.0"/><path stroke="#ef5350" stroke-width="0.6" d="M751.9 238.0V276.0M752.4 254.0V278.0M753.0 259.0V303.0M753.6 285.0V312.0M754.1 303.0V340.0"/><path stroke="#ef5350" stroke-width="0.95" d="M751.9 240.0V270.0M752.4 258.0V275.0M753.0 262.0V290.0M753.6 290.0V305.0M754.1 305.0V330.0"/><path stroke="#26a69a" stroke-width="0.6" d="M754.7 318.0V341.0M755.3 320.0V340.0M755.8 303.0V327.4M756.4 303.0V312.8"/><path stroke="#26a69a" stroke-width="0.95" d="M754.7 324.0V330.0M755.3 322.0V336.0M755.8 311.0V323.2M756.4 306.7V311.0"/><path stroke="#ef5350" stroke-width="0.6" d="M757.0 306.3V341.0M757.5 336.2V348.6M758.1 326.2V346.3"/><path stroke="#ef5350" stroke-width="0.95" d="M757.0 306.7V338.2M757.5 338.2V341.1M758.1 341.1V343.9"/><path stroke="#26a69a" stroke-width="0.6" d="M758.7 322.0V346.1"/><path stroke="#26a69a" stroke-width="0.95" d="M758.7 325.7V343.9"/><path stroke="#ef5350" stroke-width="0.6" d="M759.2 322.0V365.0"/><path stroke="#ef5350" stroke-width="0.95" d="M759.2 325.7V360.9"/><path stroke="#26a69a" stroke-width="0.6" d="M759.8 349.3V364.0M760.4 322.0V365.0"/><path stroke="#26a69a" stroke-width="0.95" d="M759.8 355.2V360.9M760.4 332.8V355.2"/><path stroke="#ef5350" stroke-width="0.6" d="M760.9 336.0V354.3M761.5 341.9V374.1"/><path stroke="#ef5350" stroke-width="0.95" d="M760.9 332.8V341.9M761.5 341.9V369.3"/><path stroke="#26a69a" stroke-width="0.6" d="M762.0 352.9V373.6"/><path stroke="#26a69a" stroke-width="0.95" d="M762.0 359.7V369.3"/><path stroke="#ef5350" stroke-width="0.6" d="M762.6 343.1V378.0"/><path stroke="#ef5350" stroke-width="0.95" d="M762.6 359.7V366.6"/><path stroke="#26a69a" stroke-width="0.6" d="M763.2 364.9V367.9M763.7 354.8V381.4"/><path stroke="#26a69a" stroke-width="0.95" d="M763.2 365.2V366.6M763.7 357.5V365.2"/><path stroke="#ef5350" stroke-width="0.6" d="M764.3 348.0V372.6M764.9 353.7V396.3M765.4 376.7V436.0M766.0 422.5V429.8"/><path stroke="#ef5350" stroke-width="0.95" d="M764.3 357.5V364.3M764.9 364.3V382.4M765.4 382.4V422.8M766.0 422.8V426.5"/><path stroke="#26a69a" stroke-width="0.6" d="M766.6 384.8V436.0"/><path stroke="#26a69a" stroke-width="0.95" d="M766.6 385.4V426.5"/><path stroke="#ef5350" stroke-width="0.6" d="M767.1 380.0V431.0"/><path stroke="#ef5350" stroke-width="0.95" d="M767.1 390.0V409.0"/><path stroke="#26a69a" stroke-width="0.6" d="M767.7 380.0V435.0"/><path stroke="#26a69a" stroke-width="0.95" d="M767.7 397.6V407.0"/><path stroke="#ef5350" stroke-width="0.6" d="M768.3 397.0V435.0M768.8 406.0V461.0M769.4 458.5V468.1"/><path stroke="#ef5350" stroke-width="0.95" d="M768.3 398.0V429.0M768.8 408.0V460.2M769.4 458.5V466.5"/></g>
<path d="M3 466.5H786" stroke="#ef5350" stroke-opacity="0.6" stroke-width="1" stroke-dasharray="1 1.32" fill="none"/>
<path d="M786.6 0V846" stroke="#7c7f88" stroke-width="1.3" fill="none"/>
<path d="M3 825.5H830" stroke="#6f727b" stroke-width="1.2" fill="none"/>
<path d="M3 26.5H829" stroke="#e1e6ef" stroke-width="1" fill="none"/>
</svg>
<div class="t" style="left:8.29px;top:7.1px;transform:scaleX(.907)">MACD (9, 18, close, 9, EMA, EMA)</div>
<div class="t r" style="left:155.3px;top:7.1px;transform:scaleX(.92)">−0.628</div>
<div class="t b" style="left:188.6px;top:7.1px;transform:scaleX(.917)">−2.978</div>
<div class="t o" style="left:222.4px;top:7.1px;transform:scaleX(.907)">−2.349</div>
<div class="t" style="left:9.2px;top:34px;transform:scaleX(.866)">GOLD/SILVER RATIO / U.S. DOLLAR · 1W · ICE</div>
<div class="t" style="left:204.8px;top:34px;transform:scaleX(.871)">O<span class="r">74.821</span></div>
<div class="t" style="left:244.2px;top:34px;transform:scaleX(.906)">H<span class="r">74.821</span></div>
<div class="t" style="left:283.3px;top:34px;transform:scaleX(.923)">L<span class="r">73.556</span></div>
<div class="t" style="left:322.6px;top:34px;transform:scaleX(.874)">C<span class="r">73.765</span></div>
<div class="t r" style="left:362.5px;top:34px;transform:scaleX(.886)">−0.834 (−1.12%)</div>
<div class="pl" style="top:808.75px">28.000</div><div class="pl" style="top:778.42px">32.000</div><div class="pl" style="top:748.09px">36.000</div><div class="pl" style="top:717.77px">40.000</div><div class="pl" style="top:687.44px">44.000</div><div class="pl" style="top:657.11px">48.000</div><div class="pl" style="top:626.78px">52.000</div><div class="pl" style="top:596.45px">56.000</div><div class="pl" style="top:566.13px">60.000</div><div class="pl" style="top:535.80px">64.000</div><div class="pl" style="top:505.47px">68.000</div><div class="pl" style="top:475.14px">72.000</div><div class="pl" style="top:444.81px">76.000</div><div class="pl" style="top:414.49px">80.000</div><div class="pl" style="top:384.16px">84.000</div><div class="pl" style="top:353.83px">88.000</div><div class="pl" style="top:323.50px">92.000</div><div class="pl" style="top:293.17px">96.000</div><div class="pl" style="top:262.85px">100.000</div><div class="pl" style="top:232.52px">104.000</div><div class="pl" style="top:202.19px">108.000</div><div class="pl" style="top:171.86px">112.000</div><div class="pl" style="top:141.53px">116.000</div><div class="pl" style="top:111.21px">120.000</div><div class="pl" style="top:80.88px">124.000</div><div class="pl" style="top:50.55px">128.000</div>
<div class="yl" style="left:-5.6px">2000</div><div class="yl" style="left:45.0px">2002</div><div class="yl" style="left:102.4px">2004</div><div class="yl" style="left:158.4px">2006</div><div class="yl" style="left:216.4px">2008</div><div class="yl" style="left:275.5px">2010</div><div class="yl" style="left:334.5px">2012</div><div class="yl" style="left:395.0px">2014</div><div class="yl" style="left:454.5px">2016</div><div class="yl" style="left:513.8px">2018</div><div class="yl" style="left:573.7px">2020</div><div class="yl" style="left:633.5px">2022</div><div class="yl" style="left:692.5px">2024</div><div class="yl" style="left:753.0px">2026</div>
<div id="usdmask"></div><div id="usd"></div>
<div class="t" style="left:796px;top:36.9px;transform:scaleX(.805);color:#131722">USD</div>
<div id="lastbox"></div>
<div class="t" style="left:793.5px;top:461.67px;font-size:9.6px;transform:scaleX(.883);color:#fff">73.765</div>
</body></html>
